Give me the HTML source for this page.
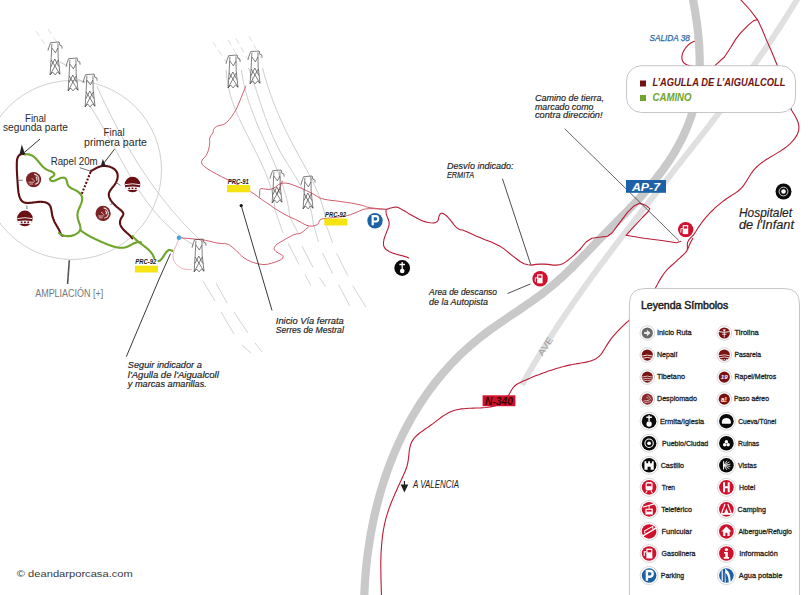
<!DOCTYPE html>
<html><head><meta charset="utf-8">
<style>
html,body{margin:0;padding:0;background:#fff;}
body{width:808px;height:595px;overflow:hidden;position:relative;font-family:"Liberation Sans",sans-serif;}
svg{position:absolute;left:0;top:0;}
</style></head><body>
<svg width="808" height="595" viewBox="0 0 808 595" font-family="Liberation Sans, sans-serif">
<defs>
<g id="tower" fill="none" stroke="#3c3c3c" stroke-width="0.65" stroke-linejoin="round">
  <path d="M0,8.8 L0.7,6 L2.6,0.7 L11.1,0 L11.8,3.2 L13.8,3.9 L14.1,6.7"/>
  <path d="M3.9,1.8 L3.2,15.9 L2.1,32.9 M9.9,1.4 L10.2,15.9 L12,32.2"/>
  <path d="M3.9,6 L7.4,10.9 L9.9,6"/>
  <path d="M3.2,18 L12,32.2 M10.2,18 L2.1,32.9 M6.8,17 L3,24.5 M6.8,17 L10.8,24.5"/>
  <path d="M2.1,32.9 L4.6,30 L7.1,32.9 L9.5,30 L12,32.2"/>
</g>
</defs>
<path d="M226.2,69.9 L226.3,70.9 L226.3,72.0 L226.4,73.0 L226.5,74.0 L226.6,75.0 L226.7,76.1 L226.8,77.1 L226.9,78.1 L227.0,79.1 L227.2,80.1 L227.3,81.1 L227.5,82.1 L227.6,83.1 L227.8,84.1 L228.0,85.1 L228.2,86.1 L228.4,87.1 L228.6,88.1 L228.8,89.0 L229.1,90.0 L229.3,91.0 L229.5,92.0 L229.8,92.9 L230.0,93.9 L230.3,94.9 L230.6,95.8 L230.9,96.8 L231.2,97.7 L231.5,98.7 L231.8,99.6 L232.1,100.6 L232.4,101.5 L232.7,102.5 L233.0,103.4 L233.4,104.4 L233.7,105.3 L234.1,106.2 L234.4,107.2 L234.8,108.1 L235.1,109.0 L235.5,110.0 L235.9,110.9 L236.3,111.8 L236.7,112.7 L237.0,113.7 L237.4,114.6 L237.8,115.5 L238.2,116.4 L238.6,117.3 L239.1,118.2 L239.5,119.1 L239.9,120.1 L240.3,121.0 L240.7,121.9 L241.2,122.8 L241.6,123.7 L242.0,124.6 L242.5,125.5 L242.9,126.4 L243.3,127.3 L243.8,128.2 L244.2,129.1 L244.7,130.0 L245.1,130.9 L245.6,131.8 L246.0,132.7 L246.5,133.6 L246.9,134.5 L247.4,135.4 L247.9,136.3 L248.3,137.2 L248.8,138.1 L249.2,139.0 L249.7,139.9 L250.2,140.8 L250.6,141.7 L251.1,142.6 L251.5,143.5 L252.0,144.4 L252.5,145.3 L252.9,146.1 L253.4,147.0 L253.8,147.9 L254.3,148.8 L254.7,149.7 L255.2,150.6 L255.7,151.5 L256.1,152.4 L256.6,153.3 L257.0,154.2 L257.5,155.1 L257.9,156.0 L258.3,156.9 L258.8,157.8 L259.2,158.7 L259.6,159.6 L260.1,160.5 L260.5,161.4 L260.9,162.3 L261.4,163.2 L261.8,164.2 L262.2,165.1 L262.6,166.0 L263.0,166.9 L263.4,167.8 L263.8,168.7 L264.2,169.6 L264.6,170.5 L265.0,171.5 L265.4,172.4 L265.7,173.3 L266.1,174.2 L266.5,175.2 L266.8,176.1 L267.2,177.0 L267.5,177.9 L267.9,178.9 L268.2,179.8 L268.5,180.7 L268.9,181.7 L269.2,182.6 L269.5,183.6 L269.8,184.5 L270.1,185.5 L270.4,186.4 L270.7,187.4 L270.9,188.3 L271.2,189.3 L271.5,190.2 L271.7,191.2 L272.0,192.1 L272.2,193.1 L272.5,194.1 L272.7,195.1 L272.9,196.0 L273.1,197.0 L273.3,198.0 L273.5,199.0 L273.7,200.0 L273.8,200.9 L274.0,201.9 L274.1,202.9 L274.3,203.9 L274.4,204.9 L274.5,205.9 L274.6,206.9 L274.7,208.0 L274.8,209.0 L274.9,210.0" fill="none" stroke="#b4b4b4" stroke-width="0.7"/>
<path d="M241.4,69.9 L241.5,70.9 L241.6,72.0 L241.8,73.0 L242.0,74.1 L242.1,75.1 L242.3,76.2 L242.5,77.2 L242.7,78.2 L242.9,79.3 L243.1,80.3 L243.3,81.3 L243.5,82.4 L243.8,83.4 L244.0,84.4 L244.2,85.5 L244.5,86.5 L244.7,87.5 L245.0,88.5 L245.2,89.5 L245.5,90.5 L245.8,91.6 L246.0,92.6 L246.3,93.6 L246.6,94.6 L246.9,95.6 L247.2,96.6 L247.5,97.6 L247.8,98.6 L248.1,99.6 L248.4,100.6 L248.8,101.6 L249.1,102.6 L249.4,103.5 L249.8,104.5 L250.1,105.5 L250.4,106.5 L250.8,107.5 L251.1,108.5 L251.5,109.5 L251.9,110.4 L252.2,111.4 L252.6,112.4 L253.0,113.4 L253.3,114.4 L253.7,115.3 L254.1,116.3 L254.5,117.3 L254.8,118.2 L255.2,119.2 L255.6,120.2 L256.0,121.1 L256.4,122.1 L256.8,123.1 L257.2,124.0 L257.6,125.0 L258.0,126.0 L258.4,126.9 L258.8,127.9 L259.2,128.9 L259.6,129.8 L260.1,130.8 L260.5,131.7 L260.9,132.7 L261.3,133.7 L261.7,134.6 L262.1,135.6 L262.6,136.5 L263.0,137.5 L263.4,138.4 L263.8,139.4 L264.2,140.3 L264.7,141.3 L265.1,142.3 L265.5,143.2 L265.9,144.2 L266.4,145.1 L266.8,146.1 L267.2,147.0 L267.6,148.0 L268.1,148.9 L268.5,149.9 L268.9,150.8 L269.3,151.8 L269.7,152.7 L270.2,153.7 L270.6,154.7 L271.0,155.6 L271.4,156.6 L271.8,157.5 L272.2,158.5 L272.7,159.4 L273.1,160.4 L273.5,161.3 L273.9,162.3 L274.3,163.3 L274.7,164.2 L275.1,165.2 L275.5,166.1 L275.9,167.1 L276.3,168.1 L276.7,169.0 L277.1,170.0 L277.4,170.9 L277.8,171.9 L278.2,172.9 L278.6,173.8 L279.0,174.8 L279.3,175.8 L279.7,176.7 L280.1,177.7 L280.4,178.7 L280.8,179.7 L281.1,180.6 L281.5,181.6 L281.8,182.6 L282.1,183.6 L282.5,184.5 L282.8,185.5 L283.1,186.5 L283.4,187.5 L283.7,188.5 L284.0,189.5 L284.3,190.5 L284.6,191.5 L284.9,192.5 L285.2,193.5 L285.5,194.4 L285.8,195.4 L286.0,196.5 L286.3,197.5 L286.5,198.5 L286.8,199.5 L287.0,200.5 L287.3,201.5 L287.5,202.5 L287.7,203.5 L287.9,204.6 L288.1,205.6 L288.3,206.6 L288.5,207.6 L288.7,208.7 L288.9,209.7 L289.0,210.7 L289.2,211.8 L289.3,212.8 L289.5,213.9 L289.6,214.9 L289.7,215.9 L289.9,217.0" fill="none" stroke="#b4b4b4" stroke-width="0.7"/>
<path d="M248.4,67.9 L248.8,68.9 L249.2,70.0 L249.6,71.1 L250.0,72.1 L250.4,73.2 L250.8,74.3 L251.2,75.3 L251.5,76.4 L251.9,77.5 L252.3,78.6 L252.7,79.6 L253.1,80.7 L253.4,81.8 L253.8,82.9 L254.2,84.0 L254.5,85.0 L254.9,86.1 L255.3,87.2 L255.6,88.3 L256.0,89.4 L256.3,90.5 L256.7,91.5 L257.1,92.6 L257.4,93.7 L257.8,94.8 L258.1,95.9 L258.5,97.0 L258.9,98.1 L259.2,99.1 L259.6,100.2 L259.9,101.3 L260.3,102.4 L260.7,103.5 L261.0,104.6 L261.4,105.7 L261.7,106.8 L262.1,107.8 L262.5,108.9 L262.8,110.0 L263.2,111.1 L263.6,112.2 L264.0,113.2 L264.3,114.3 L264.7,115.4 L265.1,116.5 L265.5,117.6 L265.9,118.6 L266.2,119.7 L266.6,120.8 L267.0,121.8 L267.4,122.9 L267.8,124.0 L268.2,125.1 L268.6,126.1 L269.0,127.2 L269.5,128.2 L269.9,129.3 L270.3,130.4 L270.7,131.4 L271.2,132.5 L271.6,133.5 L272.0,134.6 L272.5,135.6 L272.9,136.6 L273.4,137.7 L273.9,138.7 L274.3,139.8 L274.8,140.8 L275.3,141.8 L275.8,142.8 L276.3,143.9 L276.8,144.9 L277.3,145.9 L277.8,146.9 L278.3,147.9 L278.8,148.9 L279.3,150.0 L279.9,151.0 L280.4,152.0 L281.0,152.9 L281.5,153.9 L282.1,154.9 L282.7,155.9 L283.3,156.9 L283.8,157.9 L284.4,158.9 L285.0,159.8 L285.6,160.8 L286.2,161.8 L286.8,162.8 L287.4,163.7 L288.0,164.7 L288.6,165.7 L289.2,166.6 L289.8,167.6 L290.4,168.6 L291.0,169.5 L291.6,170.5 L292.2,171.5 L292.8,172.5 L293.4,173.4 L294.0,174.4 L294.6,175.4 L295.2,176.3 L295.8,177.3 L296.4,178.3 L297.0,179.3 L297.6,180.2 L298.2,181.2 L298.8,182.2 L299.3,183.2 L299.9,184.2 L300.4,185.2 L301.0,186.2 L301.5,187.2 L302.1,188.2 L302.6,189.2 L303.1,190.2 L303.6,191.2 L304.1,192.2 L304.6,193.2 L305.1,194.2 L305.6,195.3 L306.0,196.3 L306.5,197.3 L306.9,198.4 L307.4,199.4 L307.8,200.5 L308.2,201.5 L308.6,202.6 L308.9,203.7 L309.3,204.7 L309.7,205.8 L310.0,206.9 L310.3,208.0 L310.6,209.1 L310.9,210.2 L311.2,211.3 L311.5,212.5 L311.7,213.6 L311.9,214.7 L312.1,215.9 L312.3,217.0 L312.5,218.2 L312.7,219.4 L312.8,220.5 L312.9,221.7 L313.0,222.9 L313.1,224.1" fill="none" stroke="#b4b4b4" stroke-width="0.7"/>
<path d="M262.5,67.8 L262.8,68.9 L263.1,70.0 L263.4,71.2 L263.7,72.3 L264.0,73.4 L264.3,74.5 L264.6,75.6 L264.9,76.8 L265.3,77.9 L265.6,79.0 L265.9,80.1 L266.3,81.2 L266.6,82.3 L266.9,83.4 L267.3,84.5 L267.6,85.6 L268.0,86.7 L268.4,87.8 L268.7,88.9 L269.1,90.0 L269.5,91.1 L269.8,92.2 L270.2,93.3 L270.6,94.4 L271.0,95.5 L271.4,96.5 L271.8,97.6 L272.2,98.7 L272.6,99.8 L273.0,100.9 L273.4,101.9 L273.8,103.0 L274.2,104.1 L274.6,105.2 L275.1,106.2 L275.5,107.3 L275.9,108.4 L276.4,109.4 L276.8,110.5 L277.2,111.6 L277.7,112.6 L278.1,113.7 L278.6,114.8 L279.0,115.8 L279.5,116.9 L280.0,117.9 L280.4,119.0 L280.9,120.0 L281.4,121.1 L281.8,122.1 L282.3,123.2 L282.8,124.2 L283.3,125.3 L283.8,126.3 L284.2,127.4 L284.7,128.4 L285.2,129.4 L285.7,130.5 L286.2,131.5 L286.7,132.5 L287.2,133.6 L287.7,134.6 L288.3,135.6 L288.8,136.7 L289.3,137.7 L289.8,138.7 L290.3,139.8 L290.9,140.8 L291.4,141.8 L291.9,142.8 L292.4,143.8 L293.0,144.9 L293.5,145.9 L294.1,146.9 L294.6,147.9 L295.1,148.9 L295.7,149.9 L296.2,151.0 L296.8,152.0 L297.3,153.0 L297.9,154.0 L298.4,155.0 L299.0,156.0 L299.6,157.0 L300.1,158.0 L300.7,159.0 L301.2,160.0 L301.8,161.0 L302.4,162.0 L302.9,163.1 L303.5,164.1 L304.0,165.1 L304.6,166.1 L305.1,167.1 L305.7,168.1 L306.2,169.1 L306.8,170.1 L307.3,171.1 L307.9,172.1 L308.4,173.1 L308.9,174.1 L309.5,175.2 L310.0,176.2 L310.5,177.2 L311.0,178.2 L311.6,179.2 L312.1,180.2 L312.6,181.3 L313.1,182.3 L313.6,183.3 L314.1,184.3 L314.6,185.4 L315.1,186.4 L315.5,187.4 L316.0,188.5 L316.5,189.5 L316.9,190.6 L317.4,191.6 L317.8,192.7 L318.3,193.7 L318.7,194.8 L319.1,195.8 L319.5,196.9 L319.9,198.0 L320.3,199.0 L320.7,200.1 L321.1,201.2 L321.4,202.2 L321.8,203.3 L322.2,204.4 L322.5,205.5 L322.8,206.6 L323.1,207.7 L323.5,208.8 L323.8,209.9 L324.0,211.0 L324.3,212.1 L324.6,213.3 L324.8,214.4 L325.1,215.5 L325.3,216.7 L325.5,217.8 L325.7,218.9 L325.9,220.1 L326.1,221.2 L326.3,222.4 L326.4,223.6 L326.6,224.8 L326.7,225.9" fill="none" stroke="#b4b4b4" stroke-width="0.7"/>
<path d="M275,210 L283,233 M288,243 L299,264.5 M305,274.6 L311,285.7 M290,217 L298,233 M302,246 L313,267.5 M319.5,277.6 L325.5,286.7 M313.4,224 L318.5,242 M322.5,253 L332.6,273.6 M338.6,284.7 L349.7,305.8 M326.5,226 L332.6,243 M336.6,253.4 L347.7,275.6 M352.7,285.7 L365.8,306.9" fill="none" stroke="#c0c0c0" stroke-width="0.7"/>
<path d="M213,42 L226,62" fill="none" stroke="#d0d0d0" stroke-width="0.7" stroke-dasharray="6,4"/>
<path d="M228,40 L241,62" fill="none" stroke="#d0d0d0" stroke-width="0.7" stroke-dasharray="6,4"/>
<path d="M236,38.6 L248,60" fill="none" stroke="#d0d0d0" stroke-width="0.7" stroke-dasharray="6,4"/>
<path d="M249,36 L262,60" fill="none" stroke="#d0d0d0" stroke-width="0.7" stroke-dasharray="6,4"/>
<path d="M36,31 L48,49 M48,29 L58,44" fill="none" stroke="#d0d0d0" stroke-width="0.7" stroke-dasharray="6,4"/>
<path d="M60,62 L68,66 M78,79 L85,83" fill="none" stroke="#b4b4b4" stroke-width="0.7"/>
<path d="M89.9,106.1 L90.6,107.1 L91.2,108.1 L91.9,109.0 L92.5,110.0 L93.1,111.0 L93.7,112.0 L94.4,113.0 L95.0,113.9 L95.6,114.9 L96.2,115.9 L96.8,116.9 L97.4,117.9 L98.0,118.9 L98.7,119.9 L99.3,120.9 L99.9,121.9 L100.4,123.0 L101.0,124.0 L101.6,125.0 L102.2,126.0 L102.8,127.0 L103.4,128.0 L104.0,129.1 L104.6,130.1 L105.2,131.1 L105.7,132.1 L106.3,133.2 L106.9,134.2 L107.5,135.2 L108.0,136.3 L108.6,137.3 L109.2,138.3 L109.8,139.4 L110.3,140.4 L110.9,141.5 L111.5,142.5 L112.1,143.5 L112.6,144.6 L113.2,145.6 L113.8,146.7 L114.3,147.7 L114.9,148.8 L115.5,149.8 L116.1,150.8 L116.6,151.9 L117.2,152.9 L117.8,154.0 L118.3,155.0 L118.9,156.1 L119.5,157.1 L120.1,158.2 L120.6,159.2 L121.2,160.2 L121.8,161.3 L122.4,162.3 L122.9,163.4 L123.5,164.4 L124.1,165.4 L124.7,166.5 L125.3,167.5 L125.9,168.5 L126.4,169.6 L127.0,170.6 L127.6,171.6 L128.2,172.7 L128.8,173.7 L129.4,174.7 L130.0,175.7 L130.6,176.8 L131.2,177.8 L131.8,178.8 L132.4,179.8 L133.0,180.8 L133.7,181.8 L134.3,182.8 L134.9,183.8 L135.5,184.8 L136.2,185.8 L136.8,186.8 L137.4,187.8 L138.1,188.8 L138.7,189.8 L139.3,190.8 L140.0,191.8 L140.6,192.8 L141.3,193.7 L142.0,194.7 L142.6,195.7 L143.3,196.7 L144.0,197.6 L144.6,198.6 L145.3,199.5 L146.0,200.5 L146.7,201.4 L147.4,202.4 L148.1,203.3 L148.8,204.3 L149.5,205.2 L150.2,206.1 L150.9,207.0 L151.6,208.0 L152.4,208.9 L153.1,209.8 L153.8,210.7 L154.6,211.6 L155.3,212.5 L156.1,213.4 L156.9,214.2 L157.6,215.1 L158.4,216.0 L159.2,216.9 L160.0,217.7 L160.7,218.6 L161.5,219.4 L162.3,220.3 L163.2,221.1 L164.0,222.0 L164.8,222.8 L165.6,223.6 L166.5,224.4 L167.3,225.2 L168.2,226.1 L169.0,226.9 L169.9,227.6 L170.8,228.4 L171.6,229.2 L172.5,230.0 L173.4,230.8 L174.3,231.5 L175.2,232.3 L176.1,233.0 L177.1,233.8 L178.0,234.5 L178.9,235.2 L179.9,235.9 L180.8,236.6 L181.8,237.3 L182.8,238.0 L183.8,238.7 L184.8,239.4 L185.8,240.1 L186.8,240.7 L187.8,241.4 L188.8,242.0 L189.8,242.7 L190.9,243.3 L191.9,243.9 L193.0,244.6 L194.1,245.2" fill="none" stroke="#b4b4b4" stroke-width="0.7"/>
<path d="M96.9,86.1 L97.4,87.3 L97.9,88.5 L98.5,89.7 L99.0,90.8 L99.6,92.0 L100.1,93.2 L100.6,94.4 L101.2,95.5 L101.7,96.7 L102.3,97.9 L102.8,99.1 L103.4,100.2 L104.0,101.4 L104.5,102.6 L105.1,103.7 L105.6,104.9 L106.2,106.1 L106.8,107.3 L107.4,108.4 L107.9,109.6 L108.5,110.8 L109.1,111.9 L109.7,113.1 L110.2,114.3 L110.8,115.4 L111.4,116.6 L112.0,117.8 L112.6,118.9 L113.2,120.1 L113.8,121.2 L114.4,122.4 L115.0,123.5 L115.6,124.7 L116.2,125.9 L116.8,127.0 L117.4,128.2 L118.1,129.3 L118.7,130.5 L119.3,131.6 L119.9,132.8 L120.6,133.9 L121.2,135.1 L121.8,136.2 L122.4,137.3 L123.1,138.5 L123.7,139.6 L124.4,140.8 L125.0,141.9 L125.7,143.0 L126.3,144.2 L127.0,145.3 L127.6,146.4 L128.3,147.6 L128.9,148.7 L129.6,149.8 L130.3,150.9 L130.9,152.1 L131.6,153.2 L132.3,154.3 L133.0,155.4 L133.6,156.5 L134.3,157.7 L135.0,158.8 L135.7,159.9 L136.4,161.0 L137.1,162.1 L137.8,163.2 L138.5,164.3 L139.2,165.4 L139.9,166.5 L140.6,167.6 L141.3,168.7 L142.0,169.8 L142.7,170.9 L143.5,172.0 L144.2,173.1 L144.9,174.2 L145.7,175.2 L146.4,176.3 L147.1,177.4 L147.9,178.5 L148.6,179.6 L149.3,180.6 L150.1,181.7 L150.8,182.8 L151.6,183.8 L152.4,184.9 L153.1,185.9 L153.9,187.0 L154.6,188.1 L155.4,189.1 L156.2,190.2 L157.0,191.2 L157.7,192.3 L158.5,193.3 L159.3,194.3 L160.1,195.4 L160.9,196.4 L161.7,197.4 L162.5,198.5 L163.3,199.5 L164.1,200.5 L164.9,201.6 L165.7,202.6 L166.5,203.6 L167.4,204.6 L168.2,205.6 L169.0,206.6 L169.8,207.6 L170.7,208.6 L171.5,209.6 L172.3,210.6 L173.2,211.6 L174.0,212.6 L174.9,213.6 L175.7,214.6 L176.6,215.6 L177.4,216.5 L178.3,217.5 L179.2,218.5 L180.0,219.4 L180.9,220.4 L181.8,221.4 L182.7,222.3 L183.5,223.3 L184.4,224.2 L185.3,225.2 L186.2,226.1 L187.1,227.1 L188.0,228.0 L188.9,228.9 L189.8,229.9 L190.7,230.8 L191.6,231.7 L192.6,232.6 L193.5,233.6 L194.4,234.5 L195.3,235.4 L196.3,236.3 L197.2,237.2 L198.2,238.1 L199.1,239.0 L200.1,239.9 L201.0,240.8 L202.0,241.7 L202.9,242.5 L203.9,243.4 L204.8,244.3 L205.8,245.2" fill="none" stroke="#b4b4b4" stroke-width="0.7"/>
<path d="M203,281 L215,301 M221,312 L234,334 M242,345 L251,353 M216,283 L227,303 M234,312 L248,333 M255,343 L262,352" fill="none" stroke="#c0c0c0" stroke-width="0.7"/>
<circle cx="72" cy="170" r="89.5" fill="none" stroke="#c4c4c4" stroke-width="0.8"/>
<path d="M798.7,-3.3 L797.0,-0.5 L795.4,2.3 L793.7,5.0 L792.0,7.8 L790.3,10.5 L788.6,13.2 L786.9,16.0 L785.2,18.7 L783.5,21.4 L781.7,24.1 L780.0,26.8 L778.3,29.5 L776.5,32.2 L774.7,34.9 L773.0,37.5 L771.2,40.2 L769.4,42.9 L767.6,45.5 L765.8,48.2 L764.0,50.8 L762.2,53.5 L760.3,56.1 L758.5,58.7 L756.7,61.4 L754.8,64.0 L753.0,66.6 L751.1,69.2 L749.3,71.8 L747.4,74.4 L745.5,77.0 L743.7,79.6 L741.8,82.2 L739.9,84.8 L738.0,87.4 L736.1,90.0 L734.2,92.5 L732.3,95.1 L730.4,97.7 L728.4,100.2 L726.5,102.8 L724.6,105.4 L722.7,107.9 L720.7,110.5 L718.8,113.0 L716.9,115.6 L714.9,118.1 L713.0,120.6 L711.0,123.2 L709.1,125.7 L707.1,128.3 L705.2,130.8 L703.2,133.3 L701.2,135.8 L699.3,138.4 L697.3,140.9 L695.3,143.4 L693.3,145.9 L691.4,148.4 L689.4,151.0 L687.4,153.5 L685.4,156.0 L683.5,158.5 L681.5,161.0 L679.5,163.5 L677.5,166.0 L675.5,168.6 L673.5,171.1 L671.6,173.6 L669.6,176.1 L667.6,178.6 L665.6,181.1 L663.6,183.6 L661.6,186.1 L659.7,188.6 L657.7,191.1 L655.7,193.6 L653.7,196.2 L651.7,198.7 L649.7,201.2 L647.8,203.7 L645.8,206.2 L643.8,208.7 L641.8,211.2 L639.9,213.7 L637.9,216.3 L635.9,218.8 L634.0,221.3 L632.0,223.8 L630.0,226.3 L628.1,228.9 L626.1,231.4 L624.2,233.9 L622.2,236.5 L620.3,239.0 L618.3,241.5 L616.4,244.1 L614.4,246.6 L612.5,249.1 L610.6,251.7 L608.7,254.2 L606.7,256.8 L604.8,259.4 L602.9,261.9 L601.0,264.5 L599.1,267.0 L597.2,269.6 L595.3,272.2 L593.4,274.8 L591.5,277.3 L589.6,279.9 L587.8,282.5 L585.9,285.1 L584.0,287.7 L582.2,290.3 L580.3,292.9 L578.5,295.5 L576.7,298.1 L574.8,300.7 L573.0,303.4 L571.2,306.0 L569.4,308.6 L567.6,311.3 L565.8,313.9 L564.0,316.6 L562.2,319.2 L560.4,321.9 L558.7,324.5 L556.9,327.2 L555.2,329.9 L553.4,332.6 L551.7,335.3 L550.0,337.9 L548.2,340.6 L546.5,343.4 L544.8,346.1 L543.1,348.8 L541.5,351.5 L539.8,354.3 L538.1,357.0 L536.5,359.7 L534.8,362.5 L533.2,365.3 L531.6,368.0 L530.0,370.8 L528.4,373.6 L526.8,376.4 L525.2,379.2 L523.6,382.0 L522.0,384.8" fill="none" stroke="#e0e0e0" stroke-width="6"/>
<path d="M790.9,108.8 L791.9,110.7 L793.1,112.7 L794.4,114.8 L795.6,117.0 L796.8,119.2 L797.8,121.5 L798.5,123.8 L798.9,126.1 L798.9,128.4 L798.6,130.6 L797.9,132.8 L797.0,134.9 L795.8,136.9 L794.5,138.9 L793.0,140.7 L791.4,142.4 L789.7,144.1 L788.0,145.6 L786.1,147.1 L784.2,148.5 L782.3,149.8 L780.3,151.1 L778.2,152.4 L776.2,153.6 L774.1,154.9 L772.1,156.1 L770.0,157.3 L768.0,158.6 L765.9,159.8 L764.0,161.1 L762.0,162.5 L760.2,163.9 L758.4,165.4 L756.6,167.0 L755.0,168.6 L753.5,170.4 L752.1,172.2 L750.7,174.2 L749.5,176.2 L748.2,178.2 L747.0,180.3 L745.7,182.3 L744.4,184.3 L743.0,186.1 L741.6,187.9 L739.9,189.5 L738.2,191.0 L736.3,192.4 L734.3,193.7 L732.3,194.9 L730.3,196.2 L728.4,197.5 L726.4,198.8 L724.5,200.2 L722.6,201.6 L720.7,203.1 L718.9,204.6 L717.1,206.1 L715.3,207.7 L713.6,209.3 L711.9,211.0 L710.2,212.6 L708.6,214.4 L707.0,216.1 L705.5,217.9 L704.0,219.7 L702.5,221.6 L701.1,223.5 L699.8,225.4 L698.4,227.3 L697.2,229.3 L696.0,231.3 L694.7,233.2 L693.3,235.1 L691.6,236.9 L689.9,238.6 L688.5,240.4 L687.6,242.5 L687.3,244.8 L687.4,247.2 L687.4,249.4 L686.5,251.4 L685.0,253.2 L683.2,254.9 L681.4,256.5 L679.7,258.1 L677.9,259.7 L676.2,261.3 L674.5,262.9 L672.7,264.5 L670.9,266.0 L669.2,267.6 L667.6,269.2 L666.0,271.0 L664.5,272.8 L663.2,274.7 L661.9,276.6 L660.6,278.6 L659.4,280.6 L658.3,282.7 L657.2,284.8 L656.0,286.9 L654.9,289.0 L653.8,291.1 L652.7,293.2 L651.5,295.3 L650.3,297.3 L649.1,299.3 L647.8,301.3 L646.4,303.2 L644.9,305.0 L643.4,306.8 L641.8,308.5 L640.1,310.2 L638.4,311.9 L636.7,313.5 L635.0,315.1 L633.2,316.7 L631.4,318.3 L629.6,319.8 L627.9,321.4 L626.1,323.0 L624.4,324.6 L622.7,326.2 L621.0,327.8 L619.4,329.5 L617.8,331.1 L616.2,332.9 L614.6,334.6 L613.1,336.4 L611.6,338.2 L610.2,340.1 L608.8,342.1 L607.5,344.1 L606.2,346.1 L605.0,348.2 L603.7,350.3 L602.4,352.4 L601.0,354.3 L599.5,356.0 L597.8,357.4 L595.9,358.7 L593.9,359.7 L591.8,360.6 L589.5,361.3 L587.2,361.9 L584.9,362.4 L582.5,362.8 L580.0,363.2 L577.6,363.6 L575.2,364.0 L572.9,364.5 L570.5,364.9 L568.2,365.4 L566.0,365.9 L563.7,366.5 L561.5,367.0 L559.3,367.7 L557.1,368.3 L554.9,369.0 L552.7,369.7 L550.5,370.4 L548.3,371.1 L546.1,371.9 L543.9,372.7 L541.6,373.5 L539.4,374.4 L537.1,375.2 L534.9,376.1 L532.6,377.0 L530.4,378.0 L528.2,378.9 L526.0,379.9 L523.9,380.8 L521.8,381.8 L519.7,382.8 L517.7,383.8 L515.9,385.0 L514.2,386.5 L512.7,388.2 L511.4,390.2 L510.3,392.3 L509.1,394.5 L507.9,396.6 L506.6,398.7 L505.1,400.5 L503.4,402.0 L501.4,403.3 L499.4,404.3 L497.2,405.2 L494.9,405.9 L492.6,406.4 L490.3,406.9 L487.9,407.2 L485.5,407.5 L483.1,407.7 L480.7,407.9 L478.3,408.0 L475.9,408.0 L473.4,408.1 L471.0,408.2 L468.6,408.3 L466.2,408.5 L463.9,408.7 L461.6,408.9 L459.3,409.3 L457.0,409.7 L454.8,410.3 L452.7,411.0 L450.6,411.8 L448.5,412.8 L446.5,413.9 L444.5,415.1 L442.6,416.3 L440.7,417.7 L438.8,419.1 L436.8,420.6 L434.9,422.1 L433.0,423.6 L431.0,425.0 L429.0,426.5 L426.9,427.9 L424.9,429.3 L422.9,430.7 L420.9,432.1 L419.0,433.5 L417.3,435.0 L415.6,436.6 L414.1,438.3 L412.8,440.1 L411.7,442.0 L410.8,444.0 L410.2,446.2 L409.7,448.4 L409.3,450.8 L409.0,453.2 L408.8,455.6 L408.5,458.0 L408.2,460.4 L407.8,462.8 L407.3,465.1 L406.6,467.3 L405.8,469.5 L405.0,471.7 L404.0,473.8 L403.1,475.9 L402.1,478.0 L401.2,480.2 L400.2,482.3 L399.2,484.4 L398.2,486.6 L397.3,488.7 L396.3,490.9 L395.3,493.0 L394.4,495.2 L393.4,497.4 L392.5,499.6 L391.6,501.8 L390.7,504.0 L389.9,506.2 L389.1,508.4 L388.3,510.6 L387.6,512.8 L386.9,515.1 L386.2,517.4 L385.6,519.6 L385.1,521.9 L384.5,524.2 L384.1,526.5 L383.6,528.8 L383.2,531.1 L382.9,533.4 L382.5,535.8 L382.3,538.1 L382.0,540.4 L381.8,542.8 L381.6,545.1 L381.4,547.5 L381.2,549.9 L381.1,552.2 L381.0,554.6 L380.9,556.9 L380.9,559.3 L380.8,561.7 L380.8,564.1 L380.8,566.4 L380.8,568.8 L380.9,571.2 L380.9,573.5 L380.9,575.9 L381.0,578.3 L381.0,580.6 L381.1,583.0 L381.2,585.3 L381.2,587.7 L381.3,590.0 L381.4,592.3 L381.4,594.7 L381.5,597.0" fill="none" stroke="#bb1b35" stroke-width="1.1" stroke-linejoin="round" stroke-linecap="round"/>
<path d="M740.0,-1.0 L749.7,9.5 L757.6,19.8 L762.4,30.0 L766.3,39.6 L771.9,52.3 L777.4,65.7 L785.0,90.0 L790.9,108.8" fill="none" stroke="#bb1b35" stroke-width="1.1" stroke-linejoin="round" stroke-linecap="round"/>
<path d="M757.6,19.8 L753.7,20.6 L748.0,25.3 L740.2,33.3 L735.4,39.6 L730.7,47.5 L724.4,57.0 L714.9,65.7" fill="none" stroke="#bb1b35" stroke-width="1.1" stroke-linejoin="round" stroke-linecap="round"/>
<path d="M695.0,41.2 L694.8,41.3 L694.6,41.3 L694.4,41.4 L694.2,41.5 L694.0,41.5 L693.8,41.6 L693.5,41.7 L693.3,41.8 L693.1,41.8 L692.9,41.9 L692.7,42.0 L692.5,42.1 L692.3,42.2 L692.1,42.3 L691.9,42.4 L691.6,42.6 L691.4,42.7 L691.2,42.8 L691.0,42.9 L690.8,43.0 L690.6,43.2 L690.4,43.3 L690.2,43.4 L690.0,43.6 L689.8,43.7 L689.6,43.9 L689.4,44.0 L689.2,44.2 L689.0,44.4 L688.8,44.5 L688.6,44.7 L688.4,44.8 L688.3,45.0 L688.1,45.2 L687.9,45.4 L687.7,45.5 L687.5,45.7 L687.3,45.9 L687.2,46.1 L687.0,46.3 L686.8,46.5 L686.6,46.7 L686.5,46.9 L686.3,47.0 L686.1,47.2 L686.0,47.4 L685.8,47.6 L685.7,47.9 L685.5,48.1 L685.4,48.3 L685.2,48.5 L685.1,48.7 L684.9,48.9 L684.8,49.1 L684.6,49.3 L684.5,49.5 L684.4,49.8 L684.2,50.0 L684.1,50.2 L684.0,50.4 L683.9,50.6 L683.7,50.8 L683.6,51.1 L683.5,51.3 L683.4,51.5 L683.3,51.7 L683.2,52.0 L683.1,52.2 L683.0,52.4 L682.9,52.6 L682.8,52.9 L682.7,53.1 L682.6,53.3 L682.6,53.5 L682.5,53.8 L682.4,54.0 L682.4,54.2 L682.3,54.4 L682.2,54.7 L682.2,54.9 L682.1,55.1 L682.1,55.3 L682.1,55.6 L682.0,55.8 L682.0,56.0 L682.0,56.2 L681.9,56.5 L681.9,56.7 L681.9,56.9 L681.9,57.1 L681.9,57.3 L681.9,57.5 L681.9,57.8 L681.9,58.0 L681.9,58.2 L681.9,58.4 L681.9,58.6 L682.0,58.8 L682.0,59.0 L682.0,59.2 L682.1,59.4 L682.1,59.6 L682.2,59.8 L682.2,60.0 L682.3,60.2 L682.4,60.4 L682.4,60.6 L682.5,60.8 L682.6,61.0 L682.7,61.2 L682.8,61.3 L682.9,61.5 L683.0,61.7 L683.1,61.9 L683.2,62.0 L683.4,62.2 L683.5,62.4 L683.6,62.5 L683.8,62.7 L683.9,62.8 L684.1,63.0 L684.2,63.1 L684.4,63.3 L684.6,63.4 L684.8,63.6 L685.0,63.7 L685.2,63.8 L685.4,64.0 L685.6,64.1 L685.8,64.2 L686.0,64.3 L686.2,64.5 L686.5,64.6 L686.7,64.7 L686.9,64.8 L687.2,64.9 L687.5,65.0 L687.7,65.1 L688.0,65.2 L688.3,65.2 L688.6,65.3 L688.9,65.4 L689.2,65.5 L689.5,65.5 L689.8,65.6 L690.1,65.6 L690.5,65.7 L690.8,65.7 L691.2,65.8" fill="none" stroke="#bb1b35" stroke-width="1.1" stroke-linejoin="round" stroke-linecap="round"/>
<path d="M386.3,209.4 L386.9,209.2 L388.0,208.9 L389.7,208.3 L392.0,207.7 L394.0,207.2 L395.7,207.1 L397.1,207.2 L398.3,207.6 L400.0,208.4 L402.2,209.7 L405.1,211.3 L408.4,213.4 L411.7,215.3 L414.9,217.1 L418.0,218.8 L421.1,220.2 L424.1,221.4 L427.1,222.3 L430.1,222.8 L433.2,223.0 L435.5,222.6 L437.2,221.5 L438.3,219.9 L438.7,217.6 L439.2,215.8 L439.8,214.5 L440.4,213.6 L441.2,213.3 L442.1,213.3 L443.2,213.6 L444.6,214.4 L446.1,215.5 L447.7,217.1 L449.6,219.2 L451.7,221.7 L454.0,224.8 L456.1,227.1 L458.0,228.7 L459.7,229.6 L461.2,229.8 L463.2,230.3 L465.6,231.2 L468.6,232.5 L471.9,234.1 L475.9,235.9 L480.5,237.8 L485.6,239.9 L491.4,242.1 L496.4,244.4 L500.6,246.6 L504.0,248.9 L506.7,251.1 L509.6,253.5 L512.9,256.1 L516.4,258.8 L520.3,261.7 L524.1,263.7 L528.0,264.8 L531.8,265.1 L535.8,264.4 L539.8,264.1 L544.0,264.1 L548.4,264.4 L552.9,265.1 L556.9,265.1 L560.4,264.5 L563.5,263.4 L566.1,261.6 L568.7,259.7 L571.2,257.6 L573.8,255.4 L576.2,253.0 L578.1,251.2 L579.4,250.0 L580.0,249.4" fill="none" stroke="#bb1b35" stroke-width="1.1" stroke-linejoin="round" stroke-linecap="round"/>
<path d="M386.2,209.4 L386.1,209.9 L386.1,210.4 L386.0,210.8 L386.0,211.3 L386.0,211.8 L386.0,212.2 L386.1,212.7 L386.2,213.1 L386.2,213.6 L386.3,214.0 L386.5,214.5 L386.6,214.9 L386.7,215.4 L386.9,215.8 L387.0,216.2 L387.2,216.6 L387.3,217.1 L387.5,217.5 L387.7,217.9 L387.8,218.3 L388.0,218.7 L388.2,219.1 L388.3,219.6 L388.5,220.0 L388.6,220.4 L388.7,220.8 L388.8,221.2 L388.9,221.6 L389.0,222.0 L389.1,222.4 L389.1,222.8 L389.1,223.2 L389.1,223.6 L389.1,224.0 L389.1,224.4 L389.0,224.8 L389.0,225.2 L388.9,225.6 L388.8,226.0 L388.7,226.4 L388.6,226.8 L388.5,227.2 L388.3,227.6 L388.2,228.0 L388.0,228.5 L387.9,228.9 L387.7,229.3 L387.5,229.8 L387.4,230.2 L387.2,230.6 L387.0,231.1 L386.8,231.5 L386.6,232.0 L386.4,232.4 L386.3,232.9 L386.1,233.4 L385.9,233.8 L385.7,234.3 L385.5,234.8 L385.3,235.3 L385.2,235.7 L385.0,236.2 L384.8,236.7 L384.7,237.1 L384.5,237.6 L384.4,238.1 L384.3,238.6 L384.1,239.0 L384.0,239.5 L383.9,239.9 L383.8,240.4 L383.7,240.9 L383.6,241.3 L383.6,241.8 L383.5,242.2 L383.5,242.6 L383.5,243.0 L383.5,243.5 L383.5,243.9 L383.5,244.3 L383.5,244.7 L383.6,245.1 L383.7,245.5 L383.7,245.8 L383.9,246.2 L384.0,246.5 L384.1,246.9 L384.3,247.2 L384.5,247.5 L384.7,247.9 L384.9,248.2 L385.2,248.5 L385.4,248.8 L385.7,249.0 L386.0,249.3 L386.3,249.6 L386.6,249.8 L386.9,250.1 L387.3,250.3 L387.6,250.6 L388.0,250.8 L388.4,251.0 L388.7,251.2 L389.1,251.5 L389.5,251.7 L390.0,251.9 L390.4,252.1 L390.8,252.3 L391.2,252.4 L391.7,252.6 L392.1,252.8 L392.6,253.0 L393.1,253.1 L393.5,253.3 L394.0,253.5 L394.5,253.6 L394.9,253.8 L395.4,253.9 L395.9,254.1 L396.4,254.2 L396.9,254.3 L397.4,254.5 L397.8,254.6 L398.3,254.7 L398.8,254.9 L399.3,255.0 L399.8,255.1 L400.3,255.3 L400.7,255.4 L401.2,255.5 L401.7,255.6 L402.1,255.8 L402.6,255.9 L403.0,256.0 L403.5,256.1 L403.9,256.3 L404.4,256.4 L404.8,256.5 L405.2,256.6 L405.6,256.8 L406.0,256.9 L406.4,257.0 L406.8,257.1 L407.1,257.3 L407.5,257.4 L407.8,257.6 L408.1,257.7 L408.4,257.8 L408.8,258.0" fill="none" stroke="#bb1b35" stroke-width="1.1" stroke-linejoin="round" stroke-linecap="round"/>
<path d="M692.6,-3.0 L693.4,1.7 L694.3,6.5 L695.1,11.2 L695.8,16.1 L696.6,20.9 L697.2,25.8 L697.8,30.7 L698.3,35.6 L698.8,40.5 L699.2,45.4 L699.4,50.4 L699.6,55.3 L699.7,60.2 L699.7,65.1 L699.6,70.0 L699.3,74.9 L698.9,79.8 L698.4,84.6 L697.7,89.4 L696.9,94.2 L696.0,98.9 L694.9,103.6 L693.7,108.2 L692.3,112.8 L690.8,117.4 L689.2,121.9 L687.4,126.4 L685.5,130.9 L683.6,135.2 L681.5,139.6 L679.2,143.9 L676.9,148.1 L674.5,152.3 L672.0,156.4 L669.4,160.4 L666.7,164.4 L663.9,168.4 L661.0,172.3 L658.1,176.1 L655.1,180.0 L652.0,183.7 L648.9,187.4 L645.7,191.1 L642.5,194.8 L639.2,198.4 L635.9,202.0 L632.5,205.6 L629.1,209.1 L625.7,212.7 L622.3,216.2 L618.9,219.7 L615.4,223.2 L612.0,226.7 L608.5,230.2 L605.1,233.7 L601.6,237.2 L598.2,240.7 L594.8,244.2 L591.4,247.7 L588.1,251.2 L584.7,254.7 L581.3,258.2 L577.9,261.6 L574.5,265.1 L571.1,268.5 L567.6,271.8 L564.1,275.2 L560.5,278.4 L556.9,281.7 L553.3,284.8 L549.5,287.9 L545.8,290.9 L541.9,293.9 L538.0,296.8 L534.1,299.6 L530.1,302.5 L526.1,305.2 L522.0,308.0 L518.0,310.8 L513.9,313.5 L509.8,316.2 L505.8,319.0 L501.7,321.8 L497.7,324.5 L493.7,327.4 L489.7,330.2 L485.8,333.1 L481.9,336.1 L478.1,339.1 L474.4,342.2 L470.7,345.3 L467.1,348.5 L463.5,351.8 L460.0,355.1 L456.5,358.5 L453.2,362.0 L449.8,365.5 L446.6,369.1 L443.4,372.7 L440.3,376.4 L437.2,380.1 L434.2,383.9 L431.3,387.7 L428.4,391.6 L425.6,395.6 L422.9,399.6 L420.2,403.6 L417.6,407.7 L415.1,411.8 L412.6,416.0 L410.2,420.2 L407.9,424.5 L405.6,428.8 L403.4,433.1 L401.3,437.5 L399.2,441.9 L397.2,446.4 L395.2,450.9 L393.3,455.4 L391.5,459.9 L389.7,464.5 L388.0,469.1 L386.4,473.7 L384.8,478.4 L383.3,483.1 L381.8,487.7 L380.4,492.5 L379.1,497.2 L377.8,501.9 L376.6,506.7 L375.4,511.5 L374.3,516.2 L373.3,521.0 L372.3,525.8 L371.4,530.6 L370.5,535.5 L369.7,540.3 L369.0,545.1 L368.3,549.9 L367.6,554.7 L367.0,559.5 L366.5,564.4 L366.0,569.2 L365.6,574.0 L365.2,578.7 L364.9,583.5 L364.6,588.3 L364.4,593.1 L364.3,597.8" fill="none" stroke="#c9c9c9" stroke-width="8.2"/>
<path d="M580.0,249.4 L586.0,242.0 L591.9,238.3 L597.0,237.5 L607.5,236.3 L612.0,233.0 L618.6,224.2 L627.5,212.3 L633.5,206.3 L639.0,203.4 L642.4,204.1 L646.0,205.6 L649.8,208.6 L648.3,211.5 L642.4,217.5 L633.5,227.1 L626.0,235.3 L643.9,238.3 L661.7,240.5 L676.5,242.7 L681.0,241.2" fill="none" stroke="#bb1b35" stroke-width="1.1" stroke-linejoin="round" stroke-linecap="round"/>
<path d="M687.7,249.4 L690,243.5 L692.9,238.3" fill="none" stroke="#bb1b35" stroke-width="1.1" stroke-linejoin="round" stroke-linecap="round"/>
<path d="M245.8,86.0 L245.5,86.8 L244.8,88.5 L243.9,90.9 L242.5,94.3 L241.2,97.5 L239.9,100.8 L238.5,104.1 L237.1,107.3 L235.5,110.5 L233.6,113.6 L231.5,116.7 L229.2,119.7 L227.0,122.1 L224.7,123.8 L222.4,124.9 L220.0,125.3 L218.1,125.9 L216.5,126.6 L215.2,127.4 L214.3,128.4 L213.7,129.2 L213.3,129.9 L213.2,130.5 L213.5,130.9 L213.3,131.7 L212.9,132.7 L212.1,134.0 L210.9,135.6 L210.1,137.2 L209.6,138.7 L209.5,140.1 L209.7,141.5 L209.7,143.2 L209.4,145.3 L209.0,147.8 L208.3,150.5 L207.4,153.1 L206.1,155.4 L204.6,157.4 L202.7,159.3 L201.7,161.0 L201.5,162.6 L202.1,164.1 L203.4,165.6 L205.0,167.0 L206.9,168.4 L209.0,169.8 L211.2,171.1 L213.7,172.5 L216.2,173.9 L218.9,175.3 L221.6,176.7 L225.2,178.5 L229.6,180.7 L234.8,183.3 L240.9,186.3 L246.1,189.1 L250.5,191.6 L254.1,193.9 L256.8,195.9 L259.3,197.7 L261.4,199.2 L263.2,200.5 L264.8,201.5 L266.5,202.7 L268.5,204.1 L270.8,205.6 L273.2,207.4 L275.8,209.1 L278.3,210.7 L280.9,212.2 L283.6,213.8 L286.1,215.1 L288.6,216.4 L291.0,217.5 L293.2,218.4 L295.7,219.6 L298.4,220.9 L301.2,222.5 L304.1,224.2 L307.0,225.4 L309.7,226.0 L312.3,226.1 L314.8,225.6 L316.7,224.9 L318.1,223.9 L318.9,222.7 L319.1,221.2 L320.0,220.0 L321.4,219.2 L323.4,218.6 L326.1,218.4 L329.1,218.1 L332.5,217.7 L336.3,217.2 L340.4,216.8 L344.1,216.2 L347.4,215.5 L350.2,214.8 L352.5,213.9 L354.8,213.0 L357.1,212.1 L359.4,211.0 L361.6,209.9 L364.6,209.1 L368.4,208.7 L373.0,208.6 L378.3,209.0 L382.3,209.2 L385.0,209.3 L386.3,209.4" fill="none" stroke="#cc4c5e" stroke-width="0.9" stroke-linejoin="round" stroke-linecap="round"/>
<path d="M259.5,197.0 L259.5,196.5 L259.5,195.5 L259.6,194.0 L259.6,192.0 L259.8,190.5 L260.1,189.4 L260.5,188.8 L261.0,188.6 L262.0,188.6 L263.6,188.8 L265.6,189.1 L268.2,189.5 L270.7,189.3 L273.3,188.4 L275.9,186.8 L278.5,184.6 L281.6,183.3 L285.1,183.0 L289.1,183.6 L293.6,185.2 L298.0,186.9 L302.2,188.6 L306.2,190.5 L310.0,192.4 L313.2,194.1 L315.8,195.6 L317.8,196.8 L319.0,197.7 L321.5,198.6 L325.0,199.4 L329.6,200.2 L335.4,200.8 L341.0,201.6 L346.4,202.4 L351.7,203.2 L356.8,204.2 L360.7,205.0 L363.5,205.7 L365.2,206.3 L365.8,206.7 L367.4,207.2 L370.2,207.7 L374.0,208.2 L378.9,208.7 L382.6,209.0 L385.1,209.3 L386.3,209.4" fill="none" stroke="#cc4c5e" stroke-width="0.9" stroke-linejoin="round" stroke-linecap="round"/>
<path d="M277,194 L282.4,181.2" fill="none" stroke="#cc4c5e" stroke-width="0.9" stroke-linejoin="round" stroke-linecap="round"/>
<path d="M178.9,237.7 L180.3,237.8 L183.2,238.1 L187.5,238.4 L193.1,238.9 L197.8,239.4 L201.4,239.8 L203.9,240.1 L205.4,240.3 L207.2,240.7 L209.5,241.2 L212.1,241.8 L215.0,242.6 L217.8,243.1 L220.2,243.4 L222.5,243.6 L224.4,243.4 L226.4,243.8 L228.4,244.5 L230.4,245.7 L232.3,247.2 L234.4,249.0 L236.7,251.1 L239.0,253.3 L241.5,255.8 L244.2,258.0 L247.2,259.8 L250.4,261.4 L253.8,262.6 L257.0,263.6 L260.0,264.2 L262.8,264.5 L265.2,264.5 L268.2,264.1 L271.7,263.2 L275.7,261.9 L280.1,260.1 L282.6,258.4 L283.2,256.6 L281.8,254.9 L278.5,253.2 L276.1,251.6 L274.6,250.1 L274.1,248.7 L274.4,247.4 L275.1,246.2 L276.0,245.1 L277.2,244.1 L278.8,243.1 L280.7,241.9 L283.2,240.5 L286.2,238.7 L289.6,236.8 L292.6,235.3 L295.0,234.3 L297.0,233.8 L298.5,233.8 L300.1,233.4 L301.8,232.5 L303.7,231.2 L305.6,229.4 L307.1,228.1 L308.1,227.2 L308.6,226.8" fill="none" stroke="#cc4c5e" stroke-width="0.9" stroke-linejoin="round" stroke-linecap="round"/>
<path d="M179.1,237.7 L179.0,238.0 L178.9,238.3 L178.8,238.6 L178.8,238.8 L178.7,239.1 L178.6,239.4 L178.5,239.7 L178.4,240.0 L178.3,240.2 L178.2,240.5 L178.1,240.8 L178.0,241.1 L177.9,241.4 L177.8,241.7 L177.7,241.9 L177.5,242.2 L177.4,242.5 L177.3,242.8 L177.2,243.1 L177.1,243.4 L176.9,243.6 L176.8,243.9 L176.7,244.2 L176.6,244.5 L176.4,244.8 L176.3,245.1 L176.2,245.4 L176.1,245.7 L175.9,245.9 L175.8,246.2 L175.7,246.5 L175.6,246.8 L175.4,247.1 L175.3,247.4 L175.2,247.7 L175.1,247.9 L174.9,248.2 L174.8,248.5 L174.7,248.8 L174.6,249.1 L174.5,249.4 L174.4,249.7 L174.3,250.0 L174.2,250.2 L174.1,250.5 L174.0,250.8 L173.9,251.1 L173.8,251.4 L173.7,251.7 L173.6,252.0 L173.6,252.2 L173.5,252.5 L173.4,252.8 L173.4,253.1 L173.3,253.4 L173.3,253.7 L173.2,253.9 L173.2,254.2 L173.1,254.5 L173.1,254.8 L173.1,255.1 L173.0,255.3 L173.0,255.6 L173.0,255.9 L173.0,256.2 L173.0,256.4 L173.0,256.7 L173.1,257.0 L173.1,257.3 L173.1,257.5 L173.2,257.8 L173.2,258.1 L173.2,258.3 L173.3,258.6 L173.4,258.9 L173.4,259.1 L173.5,259.4 L173.6,259.7 L173.7,259.9 L173.8,260.2 L173.8,260.4 L174.0,260.7 L174.1,260.9 L174.2,261.2 L174.3,261.4 L174.4,261.7 L174.5,261.9 L174.7,262.2 L174.8,262.4 L175.0,262.6 L175.1,262.9 L175.3,263.1 L175.4,263.3 L175.6,263.6 L175.8,263.8 L176.0,264.0 L176.1,264.2 L176.3,264.4 L176.5,264.6 L176.7,264.8 L176.9,265.1 L177.1,265.3 L177.4,265.4 L177.6,265.6 L177.8,265.8 L178.0,266.0 L178.3,266.2 L178.5,266.4 L178.7,266.5 L179.0,266.7 L179.2,266.9 L179.5,267.0 L179.8,267.2 L180.0,267.4 L180.3,267.5 L180.6,267.6 L180.8,267.8 L181.1,267.9 L181.4,268.0 L181.7,268.2 L182.0,268.3 L182.3,268.4 L182.6,268.5 L182.9,268.6 L183.2,268.7 L183.5,268.8 L183.9,268.9 L184.2,269.0 L184.5,269.1 L184.9,269.2 L185.2,269.2 L185.5,269.3 L185.9,269.3 L186.2,269.4 L186.6,269.4 L186.9,269.5 L187.3,269.5 L187.7,269.5 L188.0,269.6 L188.4,269.6 L188.8,269.6 L189.1,269.6 L189.5,269.6 L189.9,269.6 L190.3,269.6 L190.7,269.5 L191.1,269.5 L191.5,269.5 L191.9,269.4" fill="none" stroke="#e59aa5" stroke-width="0.9" stroke-linejoin="round"/>
<use href="#tower" x="48" y="42"/>
<use href="#tower" x="66" y="58"/>
<use href="#tower" x="83" y="74"/>
<use href="#tower" x="226" y="55"/>
<use href="#tower" x="248" y="51"/>
<use href="#tower" x="270" y="170"/>
<use href="#tower" x="301" y="176"/>
<use href="#tower" x="192" y="239"/>
<path d="M25.2,154.3 L24.1,154.1 L23.1,154.0 L22.2,154.0 L21.3,154.1 L20.6,154.4 L20.0,154.7 L19.4,155.1 L18.9,155.5 L18.4,156.1 L18.1,156.7 L17.8,157.3 L17.5,158.0 L17.3,158.7 L17.1,159.5 L17.0,160.3 L16.9,161.2 L16.9,162.0 L16.8,162.9 L16.8,163.7 L16.8,164.6 L16.8,165.4 L16.8,166.2 L16.8,167.1 L16.8,167.8 L16.8,168.6 L16.8,169.4 L16.9,170.2 L16.9,170.9 L16.9,171.7 L17.0,172.4 L17.0,173.2 L17.0,173.9 L17.1,174.6 L17.1,175.4 L17.2,176.1 L17.2,176.8 L17.3,177.6 L17.3,178.3 L17.4,179.1 L17.4,179.9 L17.5,180.7 L17.5,181.4 L17.6,182.3 L17.6,183.1 L17.7,183.9 L17.7,184.8 L17.8,185.6 L17.9,186.5 L17.9,187.4 L18.0,188.3 L18.1,189.2 L18.2,190.0 L18.3,190.9 L18.4,191.8 L18.5,192.7 L18.7,193.5 L18.9,194.3 L19.0,195.1 L19.2,195.9 L19.5,196.7 L19.7,197.4 L20.0,198.1 L20.3,198.8 L20.7,199.4 L21.0,200.0 L21.4,200.5 L21.9,201.0 L22.3,201.4 L22.8,201.8 L23.4,202.1 L24.0,202.4 L24.6,202.6 L25.2,202.8 L25.9,202.9 L26.7,202.9 L27.4,203.0 L28.2,203.0 L29.0,202.9 L29.8,202.9 L30.6,202.8 L31.4,202.7 L32.3,202.6 L33.1,202.5 L34.0,202.4 L34.9,202.2 L35.7,202.2 L36.6,202.1 L37.4,202.0 L38.3,201.9 L39.1,201.9 L39.9,201.8 L40.7,201.8 L41.5,201.9 L42.3,201.9 L43.0,202.0 L43.8,202.0 L44.5,202.2 L45.2,202.3 L45.8,202.5 L46.5,202.8 L47.1,203.0 L47.6,203.3 L48.2,203.7 L48.7,204.1 L49.1,204.6 L49.6,205.1 L49.9,205.6 L50.3,206.2 L50.6,206.9 L50.8,207.6 L51.0,208.4 L51.2,209.2 L51.4,210.0 L51.5,210.9 L51.6,211.8 L51.8,212.7 L51.9,213.6 L52.1,214.4 L52.2,215.3 L52.4,216.1 L52.6,216.9 L52.9,217.7 L53.1,218.5 L53.4,219.2 L53.7,220.0 L54.0,220.7 L54.3,221.4 L54.6,222.0 L55.0,222.7 L55.4,223.4 L55.7,224.0 L56.1,224.7 L56.5,225.3 L56.8,226.0 L57.2,226.6 L57.6,227.3 L57.9,227.9 L58.3,228.6 L58.7,229.3 L59.0,229.9 L59.3,230.6 L59.7,231.3 L60.0,232.1 L60.3,232.8 L60.6,233.5 L60.9,234.3 L61.4,234.9 L62.0,235.4 L62.8,235.7" fill="none" stroke="#5e0f12" stroke-width="2.1" stroke-linejoin="round" stroke-linecap="round"/>
<path d="M91.0,171.0 L91.7,170.6 L92.3,170.3 L93.0,169.9 L93.6,169.5 L94.3,169.2 L94.9,168.8 L95.6,168.5 L96.2,168.1 L96.8,167.8 L97.5,167.5 L98.1,167.2 L98.8,166.9 L99.4,166.7 L100.1,166.5 L100.8,166.3 L101.5,166.2 L102.2,166.0 L102.9,165.9 L103.7,165.9 L104.4,165.9 L105.2,165.9 L106.0,166.0 L106.8,166.1 L107.5,166.2 L108.3,166.4 L109.1,166.6 L109.9,166.8 L110.6,167.1 L111.3,167.4 L112.0,167.7 L112.7,168.1 L113.4,168.5 L114.0,168.9 L114.6,169.4 L115.1,169.8 L115.6,170.4 L116.0,170.9 L116.4,171.5 L116.8,172.0 L117.0,172.7 L117.3,173.3 L117.4,173.9 L117.6,174.6 L117.6,175.3 L117.7,176.0 L117.7,176.7 L117.6,177.4 L117.5,178.1 L117.4,178.8 L117.2,179.5 L116.9,180.2 L116.7,180.9 L116.4,181.6 L116.1,182.3 L115.7,183.0 L115.3,183.7 L114.9,184.3 L114.4,185.0 L114.0,185.6 L113.5,186.2 L113.0,186.8 L112.5,187.4 L112.0,188.0 L111.6,188.6 L111.1,189.2 L110.7,189.8 L110.3,190.4 L109.9,191.0 L109.6,191.6 L109.3,192.2 L109.1,192.8 L109.0,193.4 L108.8,194.0 L108.8,194.6 L108.8,195.3 L108.9,195.9 L109.1,196.6 L109.3,197.2 L109.5,197.9 L109.8,198.5 L110.1,199.2 L110.5,199.8 L110.9,200.5 L111.4,201.2 L111.9,201.8 L112.4,202.4 L112.9,203.1 L113.5,203.7 L114.1,204.3 L114.7,204.9 L115.3,205.5 L115.9,206.1 L116.6,206.7 L117.2,207.2 L117.9,207.8 L118.5,208.3 L119.1,208.8 L119.8,209.3 L120.3,209.8 L120.9,210.2 L121.4,210.7 L121.9,211.2 L122.3,211.6 L122.7,212.1 L123.0,212.6 L123.2,213.1 L123.3,213.6 L123.3,214.1 L123.3,214.6 L123.1,215.1 L122.8,215.7 L122.5,216.2 L122.1,216.8 L121.7,217.4 L121.3,218.0 L120.9,218.7 L120.6,219.3 L120.4,220.0 L120.2,220.7 L120.1,221.4 L120.0,222.1 L120.0,222.8 L120.1,223.5 L120.2,224.2 L120.4,224.9 L120.7,225.5 L121.0,226.2 L121.3,226.8 L121.8,227.4 L122.2,228.1 L122.7,228.7 L123.2,229.3 L123.7,229.9 L124.3,230.4 L124.9,231.0 L125.5,231.6 L126.1,232.1 L126.7,232.7 L127.3,233.2 L127.9,233.7 L128.5,234.3 L129.0,234.8 L129.6,235.3 L130.1,235.8 L130.6,236.3 L131.1,236.8 L131.5,237.3 L131.9,237.8 L132.2,238.3" fill="none" stroke="#5e0f12" stroke-width="2.1" stroke-linejoin="round" stroke-linecap="round"/>
<path d="M81.8,193.8 L91,171" fill="none" stroke="#5e0f12" stroke-width="2.1" stroke-dasharray="2,1.6"/>
<path d="M25.2,154.3 L26.3,154.3 L27.5,154.3 L28.5,154.4 L29.5,154.6 L30.5,154.9 L31.3,155.3 L32.2,155.7 L33.0,156.2 L33.7,156.7 L34.5,157.3 L35.2,157.9 L35.8,158.6 L36.5,159.3 L37.1,160.0 L37.8,160.7 L38.4,161.5 L39.0,162.2 L39.6,163.0 L40.2,163.8 L40.9,164.5 L41.5,165.3 L42.2,166.0 L42.9,166.7 L43.6,167.4 L44.4,168.0 L45.2,168.6 L46.0,169.2 L46.9,169.7 L47.9,170.1 L48.8,170.6 L49.8,170.9 L50.8,171.3 L51.7,171.7 L52.5,172.1 L53.3,172.6 L53.9,173.2 L54.3,173.8 L54.4,174.6 L54.2,175.2 L53.6,175.9 L52.7,176.5 L51.8,177.1 L50.9,177.7 L50.2,178.4 L49.9,179.0 L50.1,179.7 L50.6,180.4 L51.4,180.9 L52.2,181.1 L53.2,181.1 L54.1,180.9 L55.1,180.5 L56.2,180.0 L57.3,179.5 L58.4,179.0 L59.5,178.5 L60.6,178.1 L61.7,177.8 L62.8,177.7 L63.7,177.6 L64.6,177.8 L65.3,178.2 L65.8,178.8 L66.3,179.6 L66.6,180.6 L66.9,181.7 L67.2,182.8 L67.5,183.9 L67.8,184.8 L68.3,185.7 L68.9,186.4 L69.5,187.0 L70.2,187.5 L71.0,188.0 L71.8,188.5 L72.6,188.9 L73.5,189.3 L74.3,189.6 L75.2,190.1 L76.1,190.5 L76.9,191.0 L77.7,191.6 L78.5,192.2 L79.3,192.8 L79.9,193.5 L80.5,194.3 L81.1,195.0 L81.5,195.8 L81.9,196.6 L82.1,197.5 L82.2,198.3 L82.2,199.2 L82.1,200.1 L82.0,200.9 L81.7,201.8 L81.4,202.8 L81.1,203.7 L80.7,204.6 L80.3,205.6 L79.9,206.5 L79.5,207.5 L79.1,208.5 L78.7,209.4 L78.3,210.4 L78.0,211.4 L77.8,212.4 L77.6,213.4 L77.4,214.4 L77.4,215.5 L77.5,216.5 L77.6,217.5 L77.8,218.5 L78.1,219.5 L78.4,220.5 L78.7,221.5 L79.1,222.5 L79.4,223.5 L79.8,224.4 L80.0,225.3 L80.2,226.3 L80.4,227.1 L80.5,228.0 L80.4,228.8 L80.3,229.6 L80.0,230.4 L79.5,231.2 L79.0,231.8 L78.3,232.5 L77.6,233.1 L76.7,233.7 L75.8,234.2 L74.9,234.6 L74.0,235.0 L73.0,235.4 L72.0,235.6 L71.1,235.9 L70.1,236.0 L69.1,236.1 L68.1,236.1 L67.1,236.1 L66.1,236.0 L65.2,235.9 L64.2,235.7 L63.3,235.4 L62.4,235.0 L61.5,234.6 L60.6,234.1 L59.8,233.6 L59.0,233.0" fill="none" stroke="#6ea52a" stroke-width="2.1" stroke-linejoin="round" stroke-linecap="round"/>
<path d="M80.6,230.4 L81.0,230.7 L81.4,231.0 L81.7,231.2 L82.1,231.5 L82.5,231.8 L82.9,232.0 L83.3,232.3 L83.6,232.5 L84.0,232.8 L84.4,233.0 L84.8,233.3 L85.1,233.5 L85.5,233.8 L85.9,234.0 L86.2,234.2 L86.6,234.5 L87.0,234.7 L87.4,234.9 L87.7,235.1 L88.1,235.3 L88.5,235.6 L88.9,235.8 L89.2,236.0 L89.6,236.2 L90.0,236.4 L90.4,236.6 L90.7,236.8 L91.1,237.0 L91.5,237.2 L91.9,237.4 L92.3,237.6 L92.6,237.8 L93.0,238.0 L93.4,238.1 L93.8,238.3 L94.2,238.5 L94.6,238.7 L94.9,238.9 L95.3,239.1 L95.7,239.3 L96.1,239.4 L96.5,239.6 L96.9,239.8 L97.3,240.0 L97.7,240.2 L98.1,240.4 L98.5,240.6 L98.9,240.7 L99.3,240.9 L99.7,241.1 L100.1,241.3 L100.5,241.5 L100.9,241.7 L101.3,241.8 L101.7,242.0 L102.2,242.2 L102.6,242.4 L103.0,242.6 L103.4,242.7 L103.8,242.9 L104.2,243.1 L104.6,243.3 L105.1,243.4 L105.5,243.6 L105.9,243.8 L106.3,244.0 L106.7,244.1 L107.2,244.3 L107.6,244.4 L108.0,244.6 L108.4,244.8 L108.8,244.9 L109.3,245.1 L109.7,245.2 L110.1,245.4 L110.5,245.5 L110.9,245.7 L111.4,245.8 L111.8,246.0 L112.2,246.1 L112.6,246.2 L113.0,246.4 L113.4,246.5 L113.9,246.6 L114.3,246.7 L114.7,246.8 L115.1,247.0 L115.5,247.1 L115.9,247.2 L116.4,247.3 L116.8,247.3 L117.2,247.4 L117.6,247.5 L118.0,247.6 L118.4,247.6 L118.8,247.7 L119.2,247.7 L119.7,247.8 L120.1,247.8 L120.5,247.8 L120.9,247.8 L121.3,247.8 L121.7,247.8 L122.1,247.8 L122.5,247.8 L122.9,247.8 L123.3,247.7 L123.7,247.7 L124.2,247.6 L124.6,247.5 L125.0,247.5 L125.4,247.4 L125.8,247.2 L126.2,247.1 L126.6,247.0 L127.0,246.8 L127.4,246.7 L127.8,246.5 L128.2,246.3 L128.6,246.1 L129.0,245.9 L129.4,245.7 L129.8,245.5 L130.2,245.3 L130.6,245.1 L131.1,244.8 L131.5,244.6 L131.9,244.4 L132.3,244.2 L132.7,244.0 L133.1,243.7 L133.5,243.5 L133.9,243.3 L134.4,243.2 L134.8,243.0 L135.2,242.8 L135.6,242.7 L136.0,242.5 L136.5,242.4 L136.9,242.3 L137.3,242.2 L137.8,242.2 L138.2,242.1 L138.6,242.1 L139.1,242.1 L139.5,242.1 L140.0,242.2 L140.4,242.2 L140.9,242.3" fill="none" stroke="#6ea52a" stroke-width="2.1" stroke-linejoin="round" stroke-linecap="round"/>
<path d="M132.5,236.0 L132.6,236.1 L132.8,236.3 L132.9,236.5 L133.0,236.6 L133.1,236.8 L133.3,236.9 L133.4,237.1 L133.5,237.2 L133.7,237.4 L133.8,237.5 L134.0,237.7 L134.1,237.8 L134.2,238.0 L134.4,238.1 L134.5,238.3 L134.7,238.4 L134.8,238.6 L135.0,238.7 L135.1,238.9 L135.3,239.0 L135.4,239.2 L135.6,239.3 L135.7,239.4 L135.9,239.6 L136.0,239.7 L136.2,239.9 L136.4,240.0 L136.5,240.2 L136.7,240.3 L136.8,240.4 L137.0,240.6 L137.2,240.7 L137.3,240.8 L137.5,241.0 L137.7,241.1 L137.8,241.3 L138.0,241.4 L138.2,241.5 L138.3,241.7 L138.5,241.8 L138.7,241.9 L138.9,242.1 L139.0,242.2 L139.2,242.3 L139.4,242.5 L139.6,242.6 L139.7,242.8 L139.9,242.9 L140.1,243.0 L140.3,243.2 L140.4,243.3 L140.6,243.4 L140.8,243.6 L141.0,243.7 L141.1,243.8 L141.3,244.0 L141.5,244.1 L141.7,244.2 L141.8,244.4 L142.0,244.5 L142.2,244.6 L142.4,244.8 L142.6,244.9 L142.7,245.0 L142.9,245.2 L143.1,245.3 L143.3,245.4 L143.4,245.6 L143.6,245.7 L143.8,245.8 L144.0,246.0 L144.1,246.1 L144.3,246.2 L144.5,246.4 L144.7,246.5 L144.8,246.6 L145.0,246.8 L145.2,246.9 L145.4,247.0 L145.5,247.2 L145.7,247.3 L145.9,247.4 L146.0,247.6 L146.2,247.7 L146.4,247.9 L146.5,248.0 L146.7,248.1 L146.9,248.3 L147.0,248.4 L147.2,248.6 L147.4,248.7 L147.5,248.8 L147.7,249.0 L147.9,249.1 L148.0,249.3 L148.2,249.4 L148.3,249.6 L148.5,249.7 L148.6,249.8 L148.8,250.0 L148.9,250.1 L149.1,250.3 L149.2,250.4 L149.4,250.6 L149.5,250.7 L149.7,250.9 L149.8,251.0 L150.0,251.2 L150.1,251.3 L150.2,251.5 L150.4,251.6 L150.5,251.8 L150.7,251.9 L150.8,252.1 L150.9,252.3 L151.0,252.4 L151.2,252.6 L151.3,252.7 L151.4,252.9 L151.5,253.0 L151.7,253.2 L151.8,253.4 L151.9,253.5 L152.0,253.7 L152.1,253.9 L152.2,254.0 L152.3,254.2 L152.4,254.4 L152.6,254.5 L152.7,254.7 L152.8,254.9 L152.8,255.1 L152.9,255.2 L153.0,255.4 L153.1,255.6 L153.2,255.8 L153.3,255.9 L153.4,256.1 L153.5,256.3 L153.5,256.5 L153.6,256.7 L153.7,256.8 L153.8,257.0 L153.8,257.2 L153.9,257.4 L154.0,257.6 L154.0,257.8 L154.1,258.0 L154.1,258.2" fill="none" stroke="#6ea52a" stroke-width="2.1" stroke-linejoin="round" stroke-linecap="round"/>
<path d="M158.4,261.0 L158.5,261.0 L158.6,261.0 L158.7,261.0 L158.8,260.9 L158.9,260.9 L159.0,260.9 L159.1,260.9 L159.2,260.8 L159.3,260.8 L159.4,260.7 L159.5,260.7 L159.6,260.6 L159.7,260.6 L159.8,260.5 L159.9,260.5 L160.0,260.4 L160.1,260.4 L160.2,260.3 L160.3,260.2 L160.4,260.2 L160.5,260.1 L160.6,260.0 L160.7,259.9 L160.8,259.8 L160.9,259.8 L160.9,259.7 L161.0,259.6 L161.1,259.5 L161.2,259.4 L161.3,259.3 L161.4,259.2 L161.5,259.1 L161.6,259.0 L161.6,258.9 L161.7,258.8 L161.8,258.7 L161.9,258.6 L162.0,258.5 L162.1,258.4 L162.2,258.3 L162.2,258.2 L162.3,258.1 L162.4,258.0 L162.5,257.8 L162.6,257.7 L162.6,257.6 L162.7,257.5 L162.8,257.4 L162.9,257.2 L163.0,257.1 L163.0,257.0 L163.1,256.9 L163.2,256.8 L163.3,256.6 L163.4,256.5 L163.4,256.4 L163.5,256.3 L163.6,256.1 L163.7,256.0 L163.8,255.9 L163.8,255.8 L163.9,255.6 L164.0,255.5 L164.1,255.4 L164.2,255.2 L164.2,255.1 L164.3,255.0 L164.4,254.9 L164.5,254.7 L164.6,254.6 L164.6,254.5 L164.7,254.4 L164.8,254.2 L164.9,254.1 L165.0,254.0 L165.0,253.9 L165.1,253.8 L165.2,253.6 L165.3,253.5 L165.4,253.4 L165.4,253.3 L165.5,253.2 L165.6,253.0 L165.7,252.9 L165.8,252.8 L165.8,252.7 L165.9,252.6 L166.0,252.5 L166.1,252.4 L166.2,252.3 L166.3,252.2 L166.3,252.1 L166.4,252.0 L166.5,251.9 L166.6,251.8 L166.7,251.7 L166.8,251.6 L166.9,251.5 L167.0,251.4 L167.0,251.3 L167.1,251.2 L167.2,251.1 L167.3,251.1 L167.4,251.0 L167.5,250.9 L167.6,250.8 L167.7,250.8 L167.8,250.7 L167.9,250.6 L168.0,250.6 L168.0,250.5 L168.1,250.5 L168.2,250.4 L168.3,250.4 L168.4,250.3 L168.5,250.3 L168.6,250.2 L168.7,250.2 L168.8,250.1 L168.9,250.1 L169.0,250.1 L169.1,250.1 L169.2,250.0 L169.4,250.0 L169.5,250.0 L169.6,250.0 L169.7,250.0 L169.8,250.0 L169.9,250.0 L170.0,250.0 L170.1,250.0 L170.2,250.0 L170.3,250.0 L170.5,250.0 L170.6,250.1 L170.7,250.1 L170.8,250.1 L170.9,250.2 L171.0,250.2 L171.2,250.3 L171.3,250.3 L171.4,250.4 L171.5,250.4 L171.7,250.5 L171.8,250.6 L171.9,250.6 L172.0,250.7 L172.2,250.8 L172.3,250.9" fill="none" stroke="#6ea52a" stroke-width="2.1" stroke-linejoin="round" stroke-linecap="round"/>
<path d="M40,139 L24.2,152.6 M114.5,149.2 L103.6,163.5" stroke="#222" stroke-width="0.9"/>
<path d="M21.8,144.5 L19.6,154 L25,154 Z M102.8,159 L100.6,167 L105.8,166 Z" fill="#222"/>
<path d="M79.8,167.7 L90,171" stroke="#333" stroke-width="0.7"/>
<path d="M18.5,180.3 L22.7,180.3 M26.9,205.5 L26.9,209 M115.4,182 L120.4,185.4 M110.3,204.7 L112.9,203" stroke="#555" stroke-width="0.8"/>
<path d="M69.3,260.2 L67.6,284" stroke="#555" stroke-width="1.6"/>
<g transform="translate(33.6,179.6)"><circle r="7.6" fill="#7a2224"/><path d="M0.5,-5.5 C3.5,-5 5.6,-2.5 5.2,0.8 C4.9,3 3.2,4.3 1.2,4.6 M2.2,-2.8 C3.4,-2 3.6,-0.5 3,1" stroke="#f2dada" stroke-width="1.1" fill="none"/><path d="M-5,2.6 L0.5,2.6 M-4.2,4.4 L-0.5,4.4 M-2,-1 C-0.5,-0.5 0.5,0.5 1,2" stroke="#f2dada" stroke-width="0.8" fill="none"/></g>
<g transform="translate(24.9,218.4)"><circle r="7.8" fill="#6a1012"/><path d="M-7.5,0.2 Q0,-1.6 7.5,0.2" stroke="#fff" stroke-width="0.9" fill="none"/><path d="M-7,2.6 Q0,1.6 7,2.6 L6.2,5.7 Q0,5 -6.2,5.7 Z" fill="#fff"/><path d="M-4.2,3.2 h1.8 v1.6 h-1.8 Z M-0.9,3 h1.8 v1.6 h-1.8 Z M2.4,3.2 h1.8 v1.6 h-1.8 Z" fill="#6a1012"/></g>
<g transform="translate(132.5,184.5)"><circle r="7.8" fill="#6a1012"/><path d="M-7.5,0.2 Q0,-1.6 7.5,0.2" stroke="#fff" stroke-width="0.9" fill="none"/><path d="M-7,2.6 Q0,1.6 7,2.6 L6.2,5.7 Q0,5 -6.2,5.7 Z" fill="#fff"/><path d="M-4.2,3.2 h1.8 v1.6 h-1.8 Z M-0.9,3 h1.8 v1.6 h-1.8 Z M2.4,3.2 h1.8 v1.6 h-1.8 Z" fill="#6a1012"/></g>
<g transform="translate(103.1,213.4)"><circle r="7.6" fill="#7a2224"/><path d="M0.5,-5.5 C3.5,-5 5.6,-2.5 5.2,0.8 C4.9,3 3.2,4.3 1.2,4.6 M2.2,-2.8 C3.4,-2 3.6,-0.5 3,1" stroke="#f2dada" stroke-width="1.1" fill="none"/><path d="M-5,2.6 L0.5,2.6 M-4.2,4.4 L-0.5,4.4 M-2,-1 C-0.5,-0.5 0.5,0.5 1,2" stroke="#f2dada" stroke-width="0.8" fill="none"/></g>
<circle cx="178.9" cy="237.7" r="2.2" fill="#4aa3d8"/>
<rect x="135" y="265.7" width="23" height="6.8" fill="#f6e312"/>
<rect x="227" y="185" width="23.2" height="7.3" fill="#f6e312"/>
<rect x="324.3" y="218.5" width="22.9" height="7" fill="#f6e312"/>
<text x="135.3" y="263.8" font-size="7" font-weight="bold" font-style="italic" fill="#1a1a1a" textLength="21" lengthAdjust="spacingAndGlyphs">PRC-92</text>
<text x="227.8" y="183.8" font-size="7" font-weight="bold" font-style="italic" fill="#1a1a1a" textLength="21" lengthAdjust="spacingAndGlyphs">PRC-91</text>
<text x="325" y="216.7" font-size="7" font-weight="bold" font-style="italic" fill="#1a1a1a" textLength="21" lengthAdjust="spacingAndGlyphs">PRC-92</text>
<path d="M158.7,280 L126.3,356.7 M170.5,253.6 L158.7,280" stroke="#222" stroke-width="0.9"/>
<circle cx="241.2" cy="205.6" r="1.6" fill="#111"/>
<path d="M241.2,205.6 L272,310.4" stroke="#222" stroke-width="0.9"/>
<path d="M502.4,178.6 L530.8,264.8" stroke="#222" stroke-width="0.8"/>
<path d="M564.7,128.7 L678.8,240.5" stroke="#222" stroke-width="0.7"/>
<path d="M507.6,293.5 L530.5,283.9" stroke="#222" stroke-width="0.8"/>
<g transform="translate(375,220.7)"><circle r="7.7" fill="#1d62a6"/><path d="M-2.3,4.5 L-2.3,-4.5 L1,-4.5 C4,-4.5 4,0.8 1,0.8 L-2.3,0.8" fill="none" stroke="#fff" stroke-width="2.2"/></g>
<g transform="translate(402.2,268)"><circle r="7.9" fill="#0a0a0a"/><path d="M0,-6 L0,2 M-2.8,-3.5 L2.8,-3.5" stroke="#fff" stroke-width="1.3"/><circle cy="3" r="2.3" fill="#fff"/></g>
<g transform="translate(540.1,278.8)"><circle r="7.7" fill="#d1102c"/><path d="M-3,-4.5 L2.5,-4.5 L2.5,4.5 L-3,4.5 Z" fill="#fff"/><path d="M-1.8,-3.3 L1.3,-3.3 L1.3,-1 L-1.8,-1 Z" fill="#d1102c"/><path d="M-3,-1 L-4.8,-1 L-4.8,3" stroke="#fff" stroke-width="0.9" fill="none"/></g>
<g transform="translate(685.7,229.6)"><circle r="7.7" fill="#d1102c"/><path d="M-3,-4.5 L2.5,-4.5 L2.5,4.5 L-3,4.5 Z" fill="#fff"/><path d="M-1.8,-3.3 L1.3,-3.3 L1.3,-1 L-1.8,-1 Z" fill="#d1102c"/><path d="M-3,-1 L-4.8,-1 L-4.8,3" stroke="#fff" stroke-width="0.9" fill="none"/></g>
<g transform="translate(783.5,191.5)"><circle r="8" fill="#0a0a0a"/><circle r="4.4" fill="none" stroke="#fff" stroke-width="0.8"/><circle r="2.3" fill="#fff"/></g>
<rect x="626" y="180" width="40" height="12.8" fill="#1d62a6"/>
<text x="646" y="190.6" font-size="11" font-weight="bold" font-style="italic" fill="#fff" text-anchor="middle" textLength="28" lengthAdjust="spacingAndGlyphs">AP-7</text>
<rect x="482.6" y="395.3" width="32.8" height="10.9" fill="#d1102c"/>
<text x="485" y="404.6" font-size="10" font-weight="bold" font-style="italic" fill="#3a0008" textLength="28" lengthAdjust="spacingAndGlyphs">N-340</text>
<text transform="translate(548,348) rotate(-57)" font-size="9" fill="#9a9a9a" text-anchor="middle" textLength="20" lengthAdjust="spacingAndGlyphs">AVE</text>
<text x="649.4" y="40.9" font-size="9.5" fill="#2766a6" font-style="italic" stroke="#2766a6" stroke-width="0.25" textLength="40.5" lengthAdjust="spacingAndGlyphs">SALIDA 38</text>
<text x="535" y="100.8" font-size="9" fill="#1e1e1e" font-style="italic" stroke="#1e1e1e" stroke-width="0.18" textLength="69" lengthAdjust="spacingAndGlyphs">Camino de tierra,</text>
<text x="535" y="109.6" font-size="9" fill="#1e1e1e" font-style="italic" stroke="#1e1e1e" stroke-width="0.18" textLength="58.5" lengthAdjust="spacingAndGlyphs">marcado como</text>
<text x="535" y="118.2" font-size="9" fill="#1e1e1e" font-style="italic" stroke="#1e1e1e" stroke-width="0.18" textLength="67.5" lengthAdjust="spacingAndGlyphs">contra dirección!</text>
<text x="447" y="168.8" font-size="9" fill="#1e1e1e" font-style="italic" stroke="#1e1e1e" stroke-width="0.18" textLength="66.5" lengthAdjust="spacingAndGlyphs">Desvío indicado:</text>
<text x="447" y="178" font-size="9" fill="#1e1e1e" font-style="italic" stroke="#1e1e1e" stroke-width="0.18" textLength="27" lengthAdjust="spacingAndGlyphs">ERMITA</text>
<text x="429" y="295.4" font-size="9" fill="#1e1e1e" font-style="italic" stroke="#1e1e1e" stroke-width="0.18" textLength="68" lengthAdjust="spacingAndGlyphs">Area de descanso</text>
<text x="429" y="304.5" font-size="9" fill="#1e1e1e" font-style="italic" stroke="#1e1e1e" stroke-width="0.18" textLength="59" lengthAdjust="spacingAndGlyphs">de la Autopista</text>
<text x="739" y="216.7" font-size="13" fill="#1e1e1e" font-style="italic" stroke="#1e1e1e" stroke-width="0.18" textLength="53" lengthAdjust="spacingAndGlyphs">Hospitalet</text>
<text x="739" y="228.8" font-size="13" fill="#1e1e1e" font-style="italic" stroke="#1e1e1e" stroke-width="0.18" textLength="55" lengthAdjust="spacingAndGlyphs">de l'Infant</text>
<text x="413" y="487.6" font-size="10" fill="#1a1a1a" font-style="italic" textLength="46" lengthAdjust="spacingAndGlyphs">A VALENCIA</text>
<path d="M404.4,481 L404.4,486 M401.5,485 L404.4,491 L407.3,485 Z" stroke="#222" stroke-width="1.2" fill="#222"/>
<text x="127.8" y="368.3" font-size="9" fill="#1e1e1e" font-style="italic" stroke="#1e1e1e" stroke-width="0.18" textLength="74" lengthAdjust="spacingAndGlyphs">Seguir indicador a</text>
<text x="127.8" y="378.1" font-size="9" fill="#1e1e1e" font-style="italic" stroke="#1e1e1e" stroke-width="0.18" textLength="91" lengthAdjust="spacingAndGlyphs">l'Agulla de l'Aigualcoll</text>
<text x="127.8" y="387.2" font-size="9" fill="#1e1e1e" font-style="italic" stroke="#1e1e1e" stroke-width="0.18" textLength="79" lengthAdjust="spacingAndGlyphs">y marcas amarillas.</text>
<text x="275.8" y="323.8" font-size="9" fill="#1e1e1e" font-style="italic" stroke="#1e1e1e" stroke-width="0.18" textLength="68" lengthAdjust="spacingAndGlyphs">Inicio Vía ferrata</text>
<text x="275.8" y="332.6" font-size="9" fill="#1e1e1e" font-style="italic" stroke="#1e1e1e" stroke-width="0.18" textLength="68" lengthAdjust="spacingAndGlyphs">Serres de Mestral</text>
<text x="25" y="121.6" font-size="10" fill="#2a2a2a" textLength="21" lengthAdjust="spacingAndGlyphs">Final</text>
<text x="3" y="131.4" font-size="10" fill="#2a2a2a" textLength="65" lengthAdjust="spacingAndGlyphs">segunda parte</text>
<text x="103.6" y="136" font-size="10" fill="#2a2a2a" textLength="21" lengthAdjust="spacingAndGlyphs">Final</text>
<text x="84" y="145.8" font-size="10" fill="#2a2a2a" textLength="63" lengthAdjust="spacingAndGlyphs">primera parte</text>
<text x="50.7" y="164.7" font-size="10" fill="#2a2a2a" textLength="47" lengthAdjust="spacingAndGlyphs">Rapel 20m</text>
<text x="35.2" y="297" font-size="10.5" fill="#777" textLength="68" lengthAdjust="spacingAndGlyphs">AMPLIACIÓN [+]</text>
<text x="16.8" y="576.8" font-size="9.6" fill="#3a3a3a" textLength="116" lengthAdjust="spacingAndGlyphs">© deandarporcasa.com</text>
<rect x="626.5" y="65.7" width="169" height="46.8" rx="15" ry="15" fill="#fff" stroke="#b8b8b8" stroke-width="0.8"/>
<rect x="640" y="80.5" width="6" height="6" fill="#6e1214"/>
<rect x="640" y="95" width="6" height="6" fill="#6ea52a"/>
<text x="652.5" y="86.3" font-size="11" fill="#6e1214" font-style="italic" font-weight="bold" textLength="133" lengthAdjust="spacingAndGlyphs">L’AGULLA DE L’AIGUALCOLL</text>
<text x="652.5" y="101.3" font-size="11" fill="#6ea52a" font-style="italic" font-weight="bold" textLength="39" lengthAdjust="spacingAndGlyphs">CAMINO</text>
<path d="M629.4,620 L629.4,304 Q629.4,288.5 645,288.5 L784,288.5 Q799.5,288.5 799.5,304 L799.5,620" fill="#fff" stroke="#b8b8b8" stroke-width="0.8"/>
<text x="641" y="309.2" font-size="10" fill="#1a1a1a" stroke="#1a1a1a" stroke-width="0.45" textLength="87.2" lengthAdjust="spacingAndGlyphs">Leyenda Símbolos</text>
<g transform="translate(647.3,333.00)"><circle r="7.3" fill="#fff" stroke="#c4c4c4" stroke-width="0.7"/><g transform="scale(0.889)"><circle r="6.3" fill="#676767"/><path d="M-3.6,-1.2 L-0.5,-1.2 L-0.5,-3.6 L3.8,0 L-0.5,3.6 L-0.5,1.2 L-3.6,1.2 Z" fill="#e8e8e8"/></g></g>
<text x="657" y="335.3" font-size="7.6" fill="#1e1e1e" stroke="#1e1e1e" stroke-width="0.3" textLength="34.7" lengthAdjust="spacingAndGlyphs">Inicio Ruta</text>
<g transform="translate(647.3,355.05)"><circle r="7.3" fill="#fff" stroke="#c4c4c4" stroke-width="0.7"/><g transform="scale(0.889)"><circle r="6.3" fill="#7a1214"/><path d="M-6.2,1.2 Q0,-1.2 6.2,1.2 M-5.7,3.8 Q0,1.5 5.7,3.8" stroke="#f3dede" stroke-width="1.1" fill="none"/></g></g>
<text x="657" y="357.4" font-size="7.6" fill="#1e1e1e" stroke="#1e1e1e" stroke-width="0.3" textLength="20.4" lengthAdjust="spacingAndGlyphs">Nepalí</text>
<g transform="translate(647.3,377.10)"><circle r="7.3" fill="#fff" stroke="#c4c4c4" stroke-width="0.7"/><g transform="scale(0.889)"><circle r="6.3" fill="#7a1214"/><path d="M-6.3,0 Q0,-2.2 6.3,0 M-6.1,2.4 Q0,0.2 6.1,2.4 M-5.2,4.6 Q0,2.5 5.2,4.6" stroke="#f3dede" stroke-width="0.9" fill="none"/></g></g>
<text x="657" y="379.4" font-size="7.6" fill="#1e1e1e" stroke="#1e1e1e" stroke-width="0.3" textLength="28" lengthAdjust="spacingAndGlyphs">Tibetano</text>
<g transform="translate(647.3,399.15)"><circle r="7.3" fill="#fff" stroke="#c4c4c4" stroke-width="0.7"/><g transform="scale(0.889)"><circle r="6.3" fill="#8c2a2e"/><path d="M-4.5,2.5 C-2,1 0,2.5 3,0.5 M-3.5,4.5 C-1,3 1.5,4 4,2.5 M0.5,-4.5 C2,-3 3.5,-1.5 4.5,0.5 M-1,-2 L1.5,-1" stroke="#e9c9c9" stroke-width="0.9" fill="none"/></g></g>
<text x="657" y="401.4" font-size="7.6" fill="#1e1e1e" stroke="#1e1e1e" stroke-width="0.3" textLength="40" lengthAdjust="spacingAndGlyphs">Desplomado</text>
<g transform="translate(649.1,421.20)"><circle r="9" fill="#fff" stroke="#c4c4c4" stroke-width="0.7"/><g transform="scale(1.159)"><circle r="6.3" fill="#0a0a0a"/><path d="M0,-5.2 L0,-0.2 M-2.4,-3.4 L2.4,-3.4" stroke="#fff" stroke-width="1.2"/><circle cy="2.4" r="2.3" fill="#fff"/></g></g>
<text x="659.9" y="423.5" font-size="7.6" fill="#1e1e1e" stroke="#1e1e1e" stroke-width="0.3" textLength="44.2" lengthAdjust="spacingAndGlyphs">Ermita/Iglesia</text>
<g transform="translate(649.1,443.25)"><circle r="9" fill="#fff" stroke="#c4c4c4" stroke-width="0.7"/><g transform="scale(1.159)"><circle r="6.3" fill="#0a0a0a"/><circle r="3.6" fill="none" stroke="#fff" stroke-width="0.9"/><circle r="1.6" fill="#fff"/></g></g>
<text x="662" y="445.6" font-size="7.6" fill="#1e1e1e" stroke="#1e1e1e" stroke-width="0.3" textLength="46.3" lengthAdjust="spacingAndGlyphs">Pueblo/Ciudad</text>
<g transform="translate(649.1,465.30)"><circle r="9" fill="#fff" stroke="#c4c4c4" stroke-width="0.7"/><g transform="scale(1.159)"><circle r="6.3" fill="#0a0a0a"/><path d="M-4,3.8 L-4,-3.5 L-2.4,-3.5 L-2.4,-1.8 L-0.8,-1.8 L-0.8,-3.5 L0.8,-3.5 L0.8,-1.8 L2.4,-1.8 L2.4,-3.5 L4,-3.5 L4,3.8 L1.3,3.8 L1.3,1.2 L-1.3,1.2 L-1.3,3.8 Z" fill="#fff"/></g></g>
<text x="660.7" y="467.6" font-size="7.6" fill="#1e1e1e" stroke="#1e1e1e" stroke-width="0.3" textLength="23.4" lengthAdjust="spacingAndGlyphs">Castillo</text>
<g transform="translate(649.1,487.35)"><circle r="9" fill="#fff" stroke="#c4c4c4" stroke-width="0.7"/><g transform="scale(1.159)"><circle r="6.3" fill="#d1102c"/><rect x="-3" y="-4.6" width="6" height="7.2" rx="1.6" fill="#fff"/><rect x="-2" y="-3.2" width="4" height="2.2" fill="#d1102c"/><path d="M-2.8,4.8 L-1.6,2.8 M2.8,4.8 L1.6,2.8" stroke="#fff" stroke-width="0.9"/></g></g>
<text x="661.7" y="489.7" font-size="7.6" fill="#1e1e1e" stroke="#1e1e1e" stroke-width="0.3" textLength="13.3" lengthAdjust="spacingAndGlyphs">Tren</text>
<g transform="translate(649.1,509.40)"><circle r="9" fill="#fff" stroke="#c4c4c4" stroke-width="0.7"/><g transform="scale(1.159)"><circle r="6.3" fill="#d1102c"/><path d="M-5.6,-1.8 L5.2,-5" stroke="#fff" stroke-width="1"/><path d="M0,-3.2 L0,-0.6" stroke="#fff" stroke-width="0.8"/><rect x="-3.2" y="-0.6" width="6.4" height="5" fill="#fff"/><rect x="-2.2" y="0.4" width="4.4" height="1.5" fill="#d1102c"/></g></g>
<text x="661.2" y="511.7" font-size="7.6" fill="#1e1e1e" stroke="#1e1e1e" stroke-width="0.3" textLength="30.7" lengthAdjust="spacingAndGlyphs">Teleférico</text>
<g transform="translate(649.1,531.45)"><circle r="9" fill="#fff" stroke="#c4c4c4" stroke-width="0.7"/><g transform="scale(1.159)"><circle r="6.3" fill="#d1102c"/><path d="M-6,4.2 L6,-2.8" stroke="#fff" stroke-width="1.3"/><path d="M-3.8,1.6 L-3.8,-0.6 L3.2,-4.4 L3.2,-2.2" stroke="#fff" stroke-width="0.9" fill="none"/></g></g>
<text x="661.6" y="533.8" font-size="7.6" fill="#1e1e1e" stroke="#1e1e1e" stroke-width="0.3" textLength="30.3" lengthAdjust="spacingAndGlyphs">Funicular</text>
<g transform="translate(649.1,553.50)"><circle r="9" fill="#fff" stroke="#c4c4c4" stroke-width="0.7"/><g transform="scale(1.159)"><circle r="6.3" fill="#d1102c"/><path d="M-2.4,-4.2 L2.8,-4.2 L2.8,4.3 L-2.4,4.3 Z" fill="#fff"/><path d="M-1.4,-3.1 L1.8,-3.1 L1.8,-1 L-1.4,-1 Z" fill="#d1102c"/><path d="M-2.4,-1.4 L-4.2,-1.4 L-4.2,2.2" stroke="#fff" stroke-width="0.9" fill="none"/></g></g>
<text x="661.6" y="555.8" font-size="7.6" fill="#1e1e1e" stroke="#1e1e1e" stroke-width="0.3" textLength="33.8" lengthAdjust="spacingAndGlyphs">Gasolinera</text>
<g transform="translate(649.1,575.55)"><circle r="9" fill="#fff" stroke="#c4c4c4" stroke-width="0.7"/><g transform="scale(1.159)"><circle r="6.3" fill="#1d5fa3"/><path d="M-1.9,4.4 L-1.9,-4 L0.8,-4 C3.8,-4 3.8,1 0.8,1 L-1.9,1" fill="none" stroke="#fff" stroke-width="2.1"/></g></g>
<text x="660.8" y="577.8" font-size="7.6" fill="#1e1e1e" stroke="#1e1e1e" stroke-width="0.3" textLength="23.4" lengthAdjust="spacingAndGlyphs">Parking</text>
<g transform="translate(724.3,333.00)"><circle r="7.3" fill="#fff" stroke="#c4c4c4" stroke-width="0.7"/><g transform="scale(0.889)"><circle r="6.3" fill="#7a1214"/><path d="M-6,-1.6 Q0,0.2 6,-1.6" stroke="#fff" stroke-width="1" fill="none"/><path d="M-1.8,-3.8 L1.8,-3.8 L0,-1 Z" fill="#fff"/><path d="M0,-1 L0,5 M-2.4,1.4 L2.4,1.4" stroke="#fff" stroke-width="0.9"/></g></g>
<text x="734.5" y="335.3" font-size="7.6" fill="#1e1e1e" stroke="#1e1e1e" stroke-width="0.3" textLength="24.2" lengthAdjust="spacingAndGlyphs">Tirolina</text>
<g transform="translate(724.3,355.05)"><circle r="7.3" fill="#fff" stroke="#c4c4c4" stroke-width="0.7"/><g transform="scale(0.889)"><circle r="6.3" fill="#7a1214"/><path d="M-6.2,0.8 Q0,-1.4 6.2,0.8 M-5.8,3.2 Q0,1.1 5.8,3.2" stroke="#f3dede" stroke-width="1" fill="none"/><path d="M-3.4,5.1 L-1.9,5.1 M-0.7,5.1 L0.7,5.1 M1.9,5.1 L3.4,5.1" stroke="#fff" stroke-width="0.9"/></g></g>
<text x="734.5" y="357.4" font-size="7.6" fill="#1e1e1e" stroke="#1e1e1e" stroke-width="0.3" textLength="26.6" lengthAdjust="spacingAndGlyphs">Pasarela</text>
<g transform="translate(724.3,377.10)"><circle r="7.3" fill="#fff" stroke="#c4c4c4" stroke-width="0.7"/><g transform="scale(0.889)"><circle r="6.3" fill="#7a1214"/><text x="0" y="2.6" font-size="7" font-weight="bold" font-style="italic" fill="#fff" text-anchor="middle">19</text></g></g>
<text x="734.5" y="379.4" font-size="7.6" fill="#1e1e1e" stroke="#1e1e1e" stroke-width="0.3" textLength="41.8" lengthAdjust="spacingAndGlyphs">Rapel/Metros</text>
<g transform="translate(724.3,399.15)"><circle r="7.3" fill="#fff" stroke="#c4c4c4" stroke-width="0.7"/><g transform="scale(0.889)"><circle r="6.3" fill="#7a1214"/><text x="-0.3" y="3" font-size="7.5" font-weight="bold" fill="#fff" text-anchor="middle">a!</text></g></g>
<text x="733.9" y="401.4" font-size="7.6" fill="#1e1e1e" stroke="#1e1e1e" stroke-width="0.3" textLength="35.1" lengthAdjust="spacingAndGlyphs">Paso aéreo</text>
<g transform="translate(726.4,421.20)"><circle r="9" fill="#fff" stroke="#c4c4c4" stroke-width="0.7"/><g transform="scale(1.159)"><circle r="6.3" fill="#0a0a0a"/><path d="M-3.6,2.2 C-4.8,-0.5 -2.6,-3 0,-2.8 C2.6,-3 4.8,-0.5 3.6,2.2 Z" fill="#fff"/></g></g>
<text x="738.2" y="423.5" font-size="7.6" fill="#1e1e1e" stroke="#1e1e1e" stroke-width="0.3" textLength="38.1" lengthAdjust="spacingAndGlyphs">Cueva/Túnel</text>
<g transform="translate(726.4,443.25)"><circle r="9" fill="#fff" stroke="#c4c4c4" stroke-width="0.7"/><g transform="scale(1.159)"><circle r="6.3" fill="#0a0a0a"/><circle cx="0" cy="-1.4" r="1.5" fill="#fff"/><circle cx="-1.5" cy="1.2" r="1.5" fill="#fff"/><circle cx="1.5" cy="1.2" r="1.5" fill="#fff"/></g></g>
<text x="738" y="445.6" font-size="7.6" fill="#1e1e1e" stroke="#1e1e1e" stroke-width="0.3" textLength="21.2" lengthAdjust="spacingAndGlyphs">Ruinas</text>
<g transform="translate(726.4,465.30)"><circle r="9" fill="#fff" stroke="#c4c4c4" stroke-width="0.7"/><g transform="scale(1.159)"><circle r="6.3" fill="#0a0a0a"/><path d="M-2.2,0 L2.6,-3 M-2.2,0 L3.4,-1 M-2.2,0 L3.4,1 M-2.2,0 L2.6,3 M-2.2,0 L0.5,4 M-2.2,0 L0.5,-4" stroke="#fff" stroke-width="0.7"/><path d="M-2.4,-3.6 L-2.4,3.6" stroke="#fff" stroke-width="0.9"/></g></g>
<text x="738" y="467.6" font-size="7.6" fill="#1e1e1e" stroke="#1e1e1e" stroke-width="0.3" textLength="18.6" lengthAdjust="spacingAndGlyphs">Vistas</text>
<g transform="translate(726.4,487.35)"><circle r="9" fill="#fff" stroke="#c4c4c4" stroke-width="0.7"/><g transform="scale(1.159)"><circle r="6.3" fill="#d1102c"/><path d="M-2,-4.3 L-2,4.3 M2,-4.3 L2,4.3 M-2,0 L2,0" stroke="#fff" stroke-width="1.7"/></g></g>
<text x="739" y="489.7" font-size="7.6" fill="#1e1e1e" stroke="#1e1e1e" stroke-width="0.3" textLength="16.2" lengthAdjust="spacingAndGlyphs">Hotel</text>
<g transform="translate(726.4,509.40)"><circle r="9" fill="#fff" stroke="#c4c4c4" stroke-width="0.7"/><g transform="scale(1.159)"><circle r="6.3" fill="#d1102c"/><path d="M-1.2,-4.6 L-4.4,3.8 L4.4,3.8 L1.2,-4.6" stroke="#fff" stroke-width="1" fill="none"/><path d="M-4.4,3.8 L4.4,3.8" stroke="#fff" stroke-width="1.4"/><path d="M0,-1 L-2,3.8 L2,3.8 Z" fill="#fff"/></g></g>
<text x="737.6" y="511.7" font-size="7.6" fill="#1e1e1e" stroke="#1e1e1e" stroke-width="0.3" textLength="28.4" lengthAdjust="spacingAndGlyphs">Camping</text>
<g transform="translate(726.4,531.45)"><circle r="9" fill="#fff" stroke="#c4c4c4" stroke-width="0.7"/><g transform="scale(1.159)"><circle r="6.3" fill="#d1102c"/><path d="M0,-4.3 L-4.3,0 L-2.8,0 L-2.8,4 L2.8,4 L2.8,0 L4.3,0 Z" fill="#fff"/><rect x="-0.9" y="1.2" width="1.8" height="2.8" fill="#d1102c"/></g></g>
<text x="738.4" y="533.8" font-size="7.6" fill="#1e1e1e" stroke="#1e1e1e" stroke-width="0.3" textLength="53.5" lengthAdjust="spacingAndGlyphs">Albergue/Refugio</text>
<g transform="translate(726.4,553.50)"><circle r="9" fill="#fff" stroke="#c4c4c4" stroke-width="0.7"/><g transform="scale(1.159)"><circle r="6.3" fill="#d1102c"/><circle cy="-3.4" r="1.4" fill="#fff"/><path d="M-2,-1.3 L1.2,-1.3 L1.2,3 L2.3,3 L2.3,4.5 L-2.3,4.5 L-2.3,3 L-1,3 L-1,0.1 L-2,0.1 Z" fill="#fff"/></g></g>
<text x="739.2" y="555.8" font-size="7.6" fill="#1e1e1e" stroke="#1e1e1e" stroke-width="0.3" textLength="38.6" lengthAdjust="spacingAndGlyphs">Información</text>
<g transform="translate(726.4,575.55)"><circle r="9" fill="#fff" stroke="#c4c4c4" stroke-width="0.7"/><g transform="scale(1.159)"><circle r="6.3" fill="#1d5fa3"/><path d="M-3.6,-4.6 L-3.6,4.6" stroke="#fff" stroke-width="1"/><path d="M-1.2,-6 C2.5,-3.5 3.8,0 3.6,6 L2,6.1 C2,1 0.5,-1.5 -1.4,-2.6 L-1.4,6 L-0.6,6.1 Z" fill="#fff"/></g></g>
<text x="738.8" y="577.8" font-size="7.6" fill="#1e1e1e" stroke="#1e1e1e" stroke-width="0.3" textLength="43.5" lengthAdjust="spacingAndGlyphs">Agua potable</text></svg>
</body></html>
